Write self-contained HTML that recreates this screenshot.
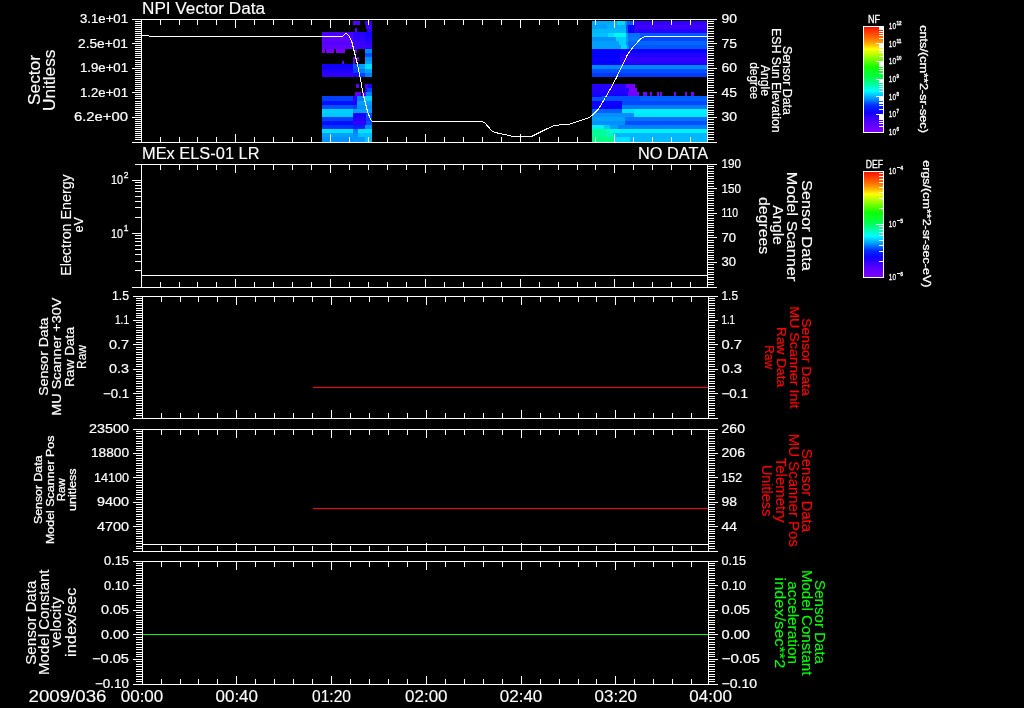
<!DOCTYPE html>
<html><head><meta charset="utf-8"><title>NPI Vector Data</title>
<style>
html,body{margin:0;padding:0;background:#000;width:1024px;height:708px;overflow:hidden}
svg{display:block}
text{font-family:"Liberation Sans",sans-serif;}
</style></head><body>
<svg width="1024" height="708" viewBox="0 0 1024 708">
<defs>
<linearGradient id="g1" x1="0" y1="0" x2="0" y2="1"><stop offset="0" stop-color="#ff1000"/><stop offset="0.107" stop-color="#ff7000"/><stop offset="0.16" stop-color="#ffb000"/><stop offset="0.21" stop-color="#ffff00"/><stop offset="0.28" stop-color="#a0ff00"/><stop offset="0.383" stop-color="#10ff00"/><stop offset="0.487" stop-color="#00ff50"/><stop offset="0.556" stop-color="#00ffb0"/><stop offset="0.608" stop-color="#00ffff"/><stop offset="0.677" stop-color="#00a0ff"/><stop offset="0.746" stop-color="#0030ff"/><stop offset="0.815" stop-color="#1000ff"/><stop offset="0.9" stop-color="#5000ff"/><stop offset="1" stop-color="#8000ff"/></linearGradient>
<linearGradient id="g2" x1="0" y1="0" x2="0" y2="1"><stop offset="0" stop-color="#ff1000"/><stop offset="0.107" stop-color="#ff7000"/><stop offset="0.16" stop-color="#ffb000"/><stop offset="0.21" stop-color="#ffff00"/><stop offset="0.28" stop-color="#a0ff00"/><stop offset="0.383" stop-color="#10ff00"/><stop offset="0.487" stop-color="#00ff50"/><stop offset="0.556" stop-color="#00ffb0"/><stop offset="0.608" stop-color="#00ffff"/><stop offset="0.677" stop-color="#00a0ff"/><stop offset="0.746" stop-color="#0030ff"/><stop offset="0.815" stop-color="#1000ff"/><stop offset="0.9" stop-color="#5000ff"/><stop offset="1" stop-color="#8000ff"/></linearGradient>
</defs>
<rect x="0" y="0" width="1024" height="708" fill="#000"/>
<g shape-rendering="crispEdges">
<rect x="353" y="21" width="7" height="4" fill="#5000ff"/>
<rect x="365" y="21" width="7" height="4" fill="#3000ff"/>
<rect x="366" y="25" width="6" height="4" fill="#4000ff"/>
<rect x="355" y="29" width="2" height="3" fill="#5800ff"/>
<rect x="367" y="29" width="5" height="3" fill="#3000ff"/>
<rect x="322" y="32" width="31" height="5" fill="#4800ff"/>
<rect x="353" y="32" width="12" height="5" fill="#2800ff"/>
<rect x="365" y="32" width="7" height="5" fill="#1000ff"/>
<rect x="322" y="37" width="31" height="4" fill="#6000ff"/>
<rect x="353" y="37" width="12" height="4" fill="#3000ff"/>
<rect x="365" y="37" width="7" height="4" fill="#2000ff"/>
<rect x="322" y="41" width="31" height="4" fill="#5800ff"/>
<rect x="353" y="41" width="12" height="4" fill="#3800ff"/>
<rect x="365" y="41" width="7" height="4" fill="#3000ff"/>
<rect x="322" y="45" width="31" height="4" fill="#6000ff"/>
<rect x="353" y="45" width="12" height="4" fill="#4000ff"/>
<rect x="365" y="45" width="7" height="4" fill="#3800ff"/>
<rect x="322" y="49" width="3" height="4" fill="#7800ff"/>
<rect x="326" y="49" width="8" height="4" fill="#7800ff"/>
<rect x="336" y="49" width="9" height="4" fill="#7800ff"/>
<rect x="355" y="49" width="2" height="4" fill="#6000ff"/>
<rect x="365" y="49" width="7" height="4" fill="#0088ff"/>
<rect x="365" y="53" width="7" height="4" fill="#0050ff"/>
<rect x="353" y="57" width="2" height="4" fill="#6000ff"/>
<rect x="357" y="57" width="2" height="4" fill="#6000ff"/>
<rect x="365" y="57" width="7" height="4" fill="#0090ff"/>
<rect x="342" y="61" width="2" height="3" fill="#6000ff"/>
<rect x="353" y="61" width="2" height="3" fill="#6000ff"/>
<rect x="365" y="61" width="7" height="3" fill="#00a0ff"/>
<rect x="322" y="64" width="31" height="5" fill="#1000ff"/>
<rect x="353" y="64" width="6" height="5" fill="#0050ff"/>
<rect x="359" y="64" width="6" height="5" fill="#00a0ff"/>
<rect x="365" y="64" width="7" height="5" fill="#00e0ff"/>
<rect x="322" y="69" width="31" height="4" fill="#2000ff"/>
<rect x="353" y="69" width="6" height="4" fill="#0040ff"/>
<rect x="359" y="69" width="6" height="4" fill="#0080ff"/>
<rect x="365" y="69" width="7" height="4" fill="#00a0ff"/>
<rect x="322" y="73" width="31" height="4" fill="#3000ff"/>
<rect x="353" y="73" width="6" height="4" fill="#2000ff"/>
<rect x="359" y="73" width="6" height="4" fill="#0040ff"/>
<rect x="365" y="73" width="7" height="4" fill="#0080ff"/>
<rect x="356" y="84" width="3" height="4" fill="#6000ff"/>
<rect x="365" y="84" width="3" height="4" fill="#5000ff"/>
<rect x="368" y="84" width="4" height="4" fill="#2000ff"/>
<rect x="365" y="88" width="2" height="4" fill="#3000ff"/>
<rect x="367" y="88" width="5" height="4" fill="#0040ff"/>
<rect x="355" y="92" width="6" height="4" fill="#6000ff"/>
<rect x="362" y="92" width="4" height="4" fill="#5800ff"/>
<rect x="366" y="92" width="6" height="4" fill="#0080ff"/>
<rect x="322" y="96" width="31" height="5" fill="#0040ff"/>
<rect x="353" y="96" width="4" height="5" fill="#3000ff"/>
<rect x="357" y="96" width="7" height="5" fill="#0080ff"/>
<rect x="364" y="96" width="8" height="5" fill="#00d0ff"/>
<rect x="322" y="101" width="31" height="4" fill="#0010ff"/>
<rect x="353" y="101" width="4" height="4" fill="#2000ff"/>
<rect x="357" y="101" width="15" height="4" fill="#00a0ff"/>
<rect x="322" y="105" width="31" height="4" fill="#0050ff"/>
<rect x="353" y="105" width="4" height="4" fill="#0040ff"/>
<rect x="357" y="105" width="15" height="4" fill="#0090ff"/>
<rect x="322" y="109" width="31" height="4" fill="#00d0ff"/>
<rect x="353" y="109" width="19" height="4" fill="#00a0ff"/>
<rect x="322" y="113" width="31" height="4" fill="#00c8ff"/>
<rect x="353" y="113" width="13" height="4" fill="#1000ff"/>
<rect x="366" y="113" width="6" height="4" fill="#0050ff"/>
<rect x="322" y="117" width="31" height="4" fill="#0040ff"/>
<rect x="353" y="117" width="13" height="4" fill="#2000ff"/>
<rect x="366" y="117" width="6" height="4" fill="#0040ff"/>
<rect x="322" y="121" width="31" height="4" fill="#0010ff"/>
<rect x="353" y="121" width="13" height="4" fill="#3000ff"/>
<rect x="366" y="121" width="6" height="4" fill="#0050ff"/>
<rect x="322" y="125" width="31" height="4" fill="#0030ff"/>
<rect x="353" y="125" width="12" height="4" fill="#0020ff"/>
<rect x="365" y="125" width="7" height="4" fill="#0090ff"/>
<rect x="322" y="129" width="31" height="4" fill="#00e0ff"/>
<rect x="353" y="129" width="5" height="4" fill="#0080ff"/>
<rect x="358" y="129" width="14" height="4" fill="#00e0ff"/>
<rect x="322" y="133" width="31" height="4" fill="#00a0ff"/>
<rect x="353" y="133" width="5" height="4" fill="#0090ff"/>
<rect x="358" y="133" width="14" height="4" fill="#00c0ff"/>
<rect x="322" y="137" width="31" height="5" fill="#0090ff"/>
<rect x="353" y="137" width="12" height="5" fill="#0098ff"/>
<rect x="365" y="137" width="7" height="5" fill="#00c0ff"/>
<rect x="592" y="21" width="25" height="4" fill="#00a8ff"/>
<rect x="617" y="21" width="8" height="4" fill="#00d8ff"/>
<rect x="625" y="21" width="2" height="4" fill="#0090ff"/>
<rect x="627" y="21" width="6" height="4" fill="#0058ff"/>
<rect x="633" y="21" width="74" height="4" fill="#3000ff"/>
<rect x="592" y="25" width="15" height="4" fill="#00a0ff"/>
<rect x="607" y="25" width="19" height="4" fill="#00b0ff"/>
<rect x="626" y="25" width="2" height="4" fill="#0050ff"/>
<rect x="628" y="25" width="7" height="4" fill="#1000ff"/>
<rect x="635" y="25" width="72" height="4" fill="#4000ff"/>
<rect x="592" y="29" width="34" height="4" fill="#00b8ff"/>
<rect x="626" y="29" width="2" height="4" fill="#0060ff"/>
<rect x="628" y="29" width="6" height="4" fill="#0800ff"/>
<rect x="634" y="29" width="73" height="4" fill="#2800ff"/>
<rect x="592" y="33" width="16" height="4" fill="#00c0ff"/>
<rect x="608" y="33" width="6" height="4" fill="#00e0ff"/>
<rect x="614" y="33" width="12" height="4" fill="#00f8f0"/>
<rect x="626" y="33" width="2" height="4" fill="#00a0ff"/>
<rect x="628" y="33" width="12" height="4" fill="#0070ff"/>
<rect x="640" y="33" width="67" height="4" fill="#0058ff"/>
<rect x="592" y="37" width="24" height="4" fill="#0090ff"/>
<rect x="616" y="37" width="10" height="4" fill="#00d0ff"/>
<rect x="626" y="37" width="2" height="4" fill="#00a0ff"/>
<rect x="628" y="37" width="12" height="4" fill="#0078ff"/>
<rect x="640" y="37" width="67" height="4" fill="#0048ff"/>
<rect x="592" y="41" width="27" height="4" fill="#00a0ff"/>
<rect x="619" y="41" width="7" height="4" fill="#00d0ff"/>
<rect x="626" y="41" width="2" height="4" fill="#0098ff"/>
<rect x="628" y="41" width="79" height="4" fill="#0068ff"/>
<rect x="592" y="45" width="29" height="4" fill="#00a0ff"/>
<rect x="621" y="45" width="6" height="4" fill="#00d8ff"/>
<rect x="627" y="45" width="2" height="4" fill="#0090ff"/>
<rect x="629" y="45" width="78" height="4" fill="#0058ff"/>
<rect x="592" y="49" width="115" height="4" fill="#0800ff"/>
<rect x="592" y="53" width="28" height="4" fill="#0000ff"/>
<rect x="620" y="53" width="87" height="4" fill="#2000ff"/>
<rect x="592" y="57" width="28" height="4" fill="#0800ff"/>
<rect x="620" y="57" width="87" height="4" fill="#3000ff"/>
<rect x="592" y="61" width="28" height="4" fill="#0000ff"/>
<rect x="620" y="61" width="87" height="4" fill="#2800ff"/>
<rect x="592" y="65" width="115" height="4" fill="#0088ff"/>
<rect x="592" y="69" width="115" height="4" fill="#0050ff"/>
<rect x="592" y="73" width="115" height="4" fill="#0038ff"/>
<rect x="592" y="84" width="34" height="4" fill="#2800ff"/>
<rect x="626" y="84" width="9" height="4" fill="#7000ff"/>
<rect x="592" y="88" width="37" height="4" fill="#2000ff"/>
<rect x="629" y="88" width="8" height="4" fill="#7800ff"/>
<rect x="592" y="92" width="36" height="4" fill="#1800ff"/>
<rect x="628" y="92" width="11" height="4" fill="#7000ff"/>
<rect x="643" y="92" width="4" height="4" fill="#7800ff"/>
<rect x="650" y="92" width="2" height="4" fill="#7800ff"/>
<rect x="657" y="92" width="2" height="4" fill="#7800ff"/>
<rect x="660" y="92" width="2" height="4" fill="#7800ff"/>
<rect x="674" y="92" width="2" height="4" fill="#7800ff"/>
<rect x="685" y="92" width="2" height="4" fill="#7800ff"/>
<rect x="691" y="92" width="3" height="4" fill="#7800ff"/>
<rect x="592" y="96" width="48" height="5" fill="#0050ff"/>
<rect x="640" y="96" width="67" height="5" fill="#0060ff"/>
<rect x="592" y="101" width="30" height="4" fill="#1000ff"/>
<rect x="622" y="101" width="85" height="4" fill="#0048ff"/>
<rect x="592" y="105" width="30" height="4" fill="#0800ff"/>
<rect x="622" y="105" width="85" height="4" fill="#0078ff"/>
<rect x="592" y="109" width="30" height="4" fill="#0060ff"/>
<rect x="622" y="109" width="12" height="4" fill="#00e0ff"/>
<rect x="634" y="109" width="73" height="4" fill="#00f0ff"/>
<rect x="592" y="113" width="42" height="4" fill="#0090ff"/>
<rect x="634" y="113" width="73" height="4" fill="#00e8ff"/>
<rect x="592" y="117" width="33" height="4" fill="#00a0ff"/>
<rect x="625" y="117" width="82" height="4" fill="#0070ff"/>
<rect x="592" y="121" width="33" height="4" fill="#0090ff"/>
<rect x="625" y="121" width="82" height="4" fill="#0050ff"/>
<rect x="592" y="125" width="12" height="4" fill="#00f0ff"/>
<rect x="604" y="125" width="6" height="4" fill="#00c8ff"/>
<rect x="610" y="125" width="8" height="4" fill="#00a0ff"/>
<rect x="618" y="125" width="89" height="4" fill="#0080ff"/>
<rect x="592" y="129" width="13" height="4" fill="#00ff90"/>
<rect x="605" y="129" width="4" height="4" fill="#00ffb0"/>
<rect x="609" y="129" width="5" height="4" fill="#00ffd0"/>
<rect x="614" y="129" width="6" height="4" fill="#00f8e8"/>
<rect x="620" y="129" width="87" height="4" fill="#00f0f8"/>
<rect x="592" y="133" width="14" height="4" fill="#00ff98"/>
<rect x="606" y="133" width="7" height="4" fill="#00f8c0"/>
<rect x="613" y="133" width="3" height="4" fill="#00d0e8"/>
<rect x="616" y="133" width="91" height="4" fill="#00b8ff"/>
<rect x="592" y="137" width="22" height="5" fill="#00ff80"/>
<rect x="614" y="137" width="16" height="5" fill="#00e0ff"/>
<rect x="630" y="137" width="77" height="5" fill="#00b8ff"/>
<rect x="355" y="28" width="2" height="1" fill="#5800ff"/>
<rect x="592" y="96" width="10" height="1" fill="#1800ff"/>
<rect x="141" y="19" width="567" height="1" fill="#fff"/>
<rect x="141" y="142" width="567" height="1" fill="#fff"/>
<rect x="141" y="19" width="1" height="124" fill="#fff"/>
<rect x="707" y="19" width="1" height="124" fill="#fff"/>
<rect x="141" y="19" width="1" height="9" fill="#fff"/>
<rect x="141" y="134" width="1" height="9" fill="#fff"/>
<rect x="160" y="19" width="1" height="6" fill="#fff"/>
<rect x="160" y="137" width="1" height="6" fill="#fff"/>
<rect x="179" y="19" width="1" height="6" fill="#fff"/>
<rect x="179" y="137" width="1" height="6" fill="#fff"/>
<rect x="197" y="19" width="1" height="6" fill="#fff"/>
<rect x="197" y="137" width="1" height="6" fill="#fff"/>
<rect x="216" y="19" width="1" height="6" fill="#fff"/>
<rect x="216" y="137" width="1" height="6" fill="#fff"/>
<rect x="235" y="19" width="1" height="9" fill="#fff"/>
<rect x="235" y="134" width="1" height="9" fill="#fff"/>
<rect x="254" y="19" width="1" height="6" fill="#fff"/>
<rect x="254" y="137" width="1" height="6" fill="#fff"/>
<rect x="273" y="19" width="1" height="6" fill="#fff"/>
<rect x="273" y="137" width="1" height="6" fill="#fff"/>
<rect x="292" y="19" width="1" height="6" fill="#fff"/>
<rect x="292" y="137" width="1" height="6" fill="#fff"/>
<rect x="311" y="19" width="1" height="6" fill="#fff"/>
<rect x="311" y="137" width="1" height="6" fill="#fff"/>
<rect x="330" y="19" width="1" height="9" fill="#fff"/>
<rect x="330" y="134" width="1" height="9" fill="#fff"/>
<rect x="349" y="19" width="1" height="6" fill="#fff"/>
<rect x="349" y="137" width="1" height="6" fill="#fff"/>
<rect x="368" y="19" width="1" height="6" fill="#fff"/>
<rect x="368" y="137" width="1" height="6" fill="#fff"/>
<rect x="387" y="19" width="1" height="6" fill="#fff"/>
<rect x="387" y="137" width="1" height="6" fill="#fff"/>
<rect x="406" y="19" width="1" height="6" fill="#fff"/>
<rect x="406" y="137" width="1" height="6" fill="#fff"/>
<rect x="425" y="19" width="1" height="9" fill="#fff"/>
<rect x="425" y="134" width="1" height="9" fill="#fff"/>
<rect x="444" y="19" width="1" height="6" fill="#fff"/>
<rect x="444" y="137" width="1" height="6" fill="#fff"/>
<rect x="463" y="19" width="1" height="6" fill="#fff"/>
<rect x="463" y="137" width="1" height="6" fill="#fff"/>
<rect x="482" y="19" width="1" height="6" fill="#fff"/>
<rect x="482" y="137" width="1" height="6" fill="#fff"/>
<rect x="501" y="19" width="1" height="6" fill="#fff"/>
<rect x="501" y="137" width="1" height="6" fill="#fff"/>
<rect x="520" y="19" width="1" height="9" fill="#fff"/>
<rect x="520" y="134" width="1" height="9" fill="#fff"/>
<rect x="539" y="19" width="1" height="6" fill="#fff"/>
<rect x="539" y="137" width="1" height="6" fill="#fff"/>
<rect x="558" y="19" width="1" height="6" fill="#fff"/>
<rect x="558" y="137" width="1" height="6" fill="#fff"/>
<rect x="577" y="19" width="1" height="6" fill="#fff"/>
<rect x="577" y="137" width="1" height="6" fill="#fff"/>
<rect x="595" y="19" width="1" height="6" fill="#fff"/>
<rect x="595" y="137" width="1" height="6" fill="#fff"/>
<rect x="614" y="19" width="1" height="9" fill="#fff"/>
<rect x="614" y="134" width="1" height="9" fill="#fff"/>
<rect x="633" y="19" width="1" height="6" fill="#fff"/>
<rect x="633" y="137" width="1" height="6" fill="#fff"/>
<rect x="652" y="19" width="1" height="6" fill="#fff"/>
<rect x="652" y="137" width="1" height="6" fill="#fff"/>
<rect x="671" y="19" width="1" height="6" fill="#fff"/>
<rect x="671" y="137" width="1" height="6" fill="#fff"/>
<rect x="690" y="19" width="1" height="6" fill="#fff"/>
<rect x="690" y="137" width="1" height="6" fill="#fff"/>
<rect x="141" y="164" width="567" height="1" fill="#fff"/>
<rect x="141" y="287" width="567" height="1" fill="#fff"/>
<rect x="141" y="164" width="1" height="124" fill="#fff"/>
<rect x="707" y="164" width="1" height="124" fill="#fff"/>
<rect x="141" y="164" width="1" height="9" fill="#fff"/>
<rect x="141" y="279" width="1" height="9" fill="#fff"/>
<rect x="160" y="164" width="1" height="6" fill="#fff"/>
<rect x="160" y="282" width="1" height="6" fill="#fff"/>
<rect x="179" y="164" width="1" height="6" fill="#fff"/>
<rect x="179" y="282" width="1" height="6" fill="#fff"/>
<rect x="197" y="164" width="1" height="6" fill="#fff"/>
<rect x="197" y="282" width="1" height="6" fill="#fff"/>
<rect x="216" y="164" width="1" height="6" fill="#fff"/>
<rect x="216" y="282" width="1" height="6" fill="#fff"/>
<rect x="235" y="164" width="1" height="9" fill="#fff"/>
<rect x="235" y="279" width="1" height="9" fill="#fff"/>
<rect x="254" y="164" width="1" height="6" fill="#fff"/>
<rect x="254" y="282" width="1" height="6" fill="#fff"/>
<rect x="273" y="164" width="1" height="6" fill="#fff"/>
<rect x="273" y="282" width="1" height="6" fill="#fff"/>
<rect x="292" y="164" width="1" height="6" fill="#fff"/>
<rect x="292" y="282" width="1" height="6" fill="#fff"/>
<rect x="311" y="164" width="1" height="6" fill="#fff"/>
<rect x="311" y="282" width="1" height="6" fill="#fff"/>
<rect x="330" y="164" width="1" height="9" fill="#fff"/>
<rect x="330" y="279" width="1" height="9" fill="#fff"/>
<rect x="349" y="164" width="1" height="6" fill="#fff"/>
<rect x="349" y="282" width="1" height="6" fill="#fff"/>
<rect x="368" y="164" width="1" height="6" fill="#fff"/>
<rect x="368" y="282" width="1" height="6" fill="#fff"/>
<rect x="387" y="164" width="1" height="6" fill="#fff"/>
<rect x="387" y="282" width="1" height="6" fill="#fff"/>
<rect x="406" y="164" width="1" height="6" fill="#fff"/>
<rect x="406" y="282" width="1" height="6" fill="#fff"/>
<rect x="425" y="164" width="1" height="9" fill="#fff"/>
<rect x="425" y="279" width="1" height="9" fill="#fff"/>
<rect x="444" y="164" width="1" height="6" fill="#fff"/>
<rect x="444" y="282" width="1" height="6" fill="#fff"/>
<rect x="463" y="164" width="1" height="6" fill="#fff"/>
<rect x="463" y="282" width="1" height="6" fill="#fff"/>
<rect x="482" y="164" width="1" height="6" fill="#fff"/>
<rect x="482" y="282" width="1" height="6" fill="#fff"/>
<rect x="501" y="164" width="1" height="6" fill="#fff"/>
<rect x="501" y="282" width="1" height="6" fill="#fff"/>
<rect x="520" y="164" width="1" height="9" fill="#fff"/>
<rect x="520" y="279" width="1" height="9" fill="#fff"/>
<rect x="539" y="164" width="1" height="6" fill="#fff"/>
<rect x="539" y="282" width="1" height="6" fill="#fff"/>
<rect x="558" y="164" width="1" height="6" fill="#fff"/>
<rect x="558" y="282" width="1" height="6" fill="#fff"/>
<rect x="577" y="164" width="1" height="6" fill="#fff"/>
<rect x="577" y="282" width="1" height="6" fill="#fff"/>
<rect x="595" y="164" width="1" height="6" fill="#fff"/>
<rect x="595" y="282" width="1" height="6" fill="#fff"/>
<rect x="614" y="164" width="1" height="9" fill="#fff"/>
<rect x="614" y="279" width="1" height="9" fill="#fff"/>
<rect x="633" y="164" width="1" height="6" fill="#fff"/>
<rect x="633" y="282" width="1" height="6" fill="#fff"/>
<rect x="652" y="164" width="1" height="6" fill="#fff"/>
<rect x="652" y="282" width="1" height="6" fill="#fff"/>
<rect x="671" y="164" width="1" height="6" fill="#fff"/>
<rect x="671" y="282" width="1" height="6" fill="#fff"/>
<rect x="690" y="164" width="1" height="6" fill="#fff"/>
<rect x="690" y="282" width="1" height="6" fill="#fff"/>
<rect x="142" y="296" width="567" height="1" fill="#fff"/>
<rect x="142" y="418" width="567" height="1" fill="#fff"/>
<rect x="142" y="296" width="1" height="123" fill="#fff"/>
<rect x="708" y="296" width="1" height="123" fill="#fff"/>
<rect x="142" y="296" width="1" height="9" fill="#fff"/>
<rect x="142" y="410" width="1" height="9" fill="#fff"/>
<rect x="161" y="296" width="1" height="6" fill="#fff"/>
<rect x="161" y="413" width="1" height="6" fill="#fff"/>
<rect x="180" y="296" width="1" height="6" fill="#fff"/>
<rect x="180" y="413" width="1" height="6" fill="#fff"/>
<rect x="198" y="296" width="1" height="6" fill="#fff"/>
<rect x="198" y="413" width="1" height="6" fill="#fff"/>
<rect x="217" y="296" width="1" height="6" fill="#fff"/>
<rect x="217" y="413" width="1" height="6" fill="#fff"/>
<rect x="236" y="296" width="1" height="9" fill="#fff"/>
<rect x="236" y="410" width="1" height="9" fill="#fff"/>
<rect x="255" y="296" width="1" height="6" fill="#fff"/>
<rect x="255" y="413" width="1" height="6" fill="#fff"/>
<rect x="274" y="296" width="1" height="6" fill="#fff"/>
<rect x="274" y="413" width="1" height="6" fill="#fff"/>
<rect x="293" y="296" width="1" height="6" fill="#fff"/>
<rect x="293" y="413" width="1" height="6" fill="#fff"/>
<rect x="312" y="296" width="1" height="6" fill="#fff"/>
<rect x="312" y="413" width="1" height="6" fill="#fff"/>
<rect x="331" y="296" width="1" height="9" fill="#fff"/>
<rect x="331" y="410" width="1" height="9" fill="#fff"/>
<rect x="350" y="296" width="1" height="6" fill="#fff"/>
<rect x="350" y="413" width="1" height="6" fill="#fff"/>
<rect x="369" y="296" width="1" height="6" fill="#fff"/>
<rect x="369" y="413" width="1" height="6" fill="#fff"/>
<rect x="388" y="296" width="1" height="6" fill="#fff"/>
<rect x="388" y="413" width="1" height="6" fill="#fff"/>
<rect x="407" y="296" width="1" height="6" fill="#fff"/>
<rect x="407" y="413" width="1" height="6" fill="#fff"/>
<rect x="426" y="296" width="1" height="9" fill="#fff"/>
<rect x="426" y="410" width="1" height="9" fill="#fff"/>
<rect x="445" y="296" width="1" height="6" fill="#fff"/>
<rect x="445" y="413" width="1" height="6" fill="#fff"/>
<rect x="464" y="296" width="1" height="6" fill="#fff"/>
<rect x="464" y="413" width="1" height="6" fill="#fff"/>
<rect x="483" y="296" width="1" height="6" fill="#fff"/>
<rect x="483" y="413" width="1" height="6" fill="#fff"/>
<rect x="502" y="296" width="1" height="6" fill="#fff"/>
<rect x="502" y="413" width="1" height="6" fill="#fff"/>
<rect x="521" y="296" width="1" height="9" fill="#fff"/>
<rect x="521" y="410" width="1" height="9" fill="#fff"/>
<rect x="540" y="296" width="1" height="6" fill="#fff"/>
<rect x="540" y="413" width="1" height="6" fill="#fff"/>
<rect x="559" y="296" width="1" height="6" fill="#fff"/>
<rect x="559" y="413" width="1" height="6" fill="#fff"/>
<rect x="578" y="296" width="1" height="6" fill="#fff"/>
<rect x="578" y="413" width="1" height="6" fill="#fff"/>
<rect x="596" y="296" width="1" height="6" fill="#fff"/>
<rect x="596" y="413" width="1" height="6" fill="#fff"/>
<rect x="615" y="296" width="1" height="9" fill="#fff"/>
<rect x="615" y="410" width="1" height="9" fill="#fff"/>
<rect x="634" y="296" width="1" height="6" fill="#fff"/>
<rect x="634" y="413" width="1" height="6" fill="#fff"/>
<rect x="653" y="296" width="1" height="6" fill="#fff"/>
<rect x="653" y="413" width="1" height="6" fill="#fff"/>
<rect x="672" y="296" width="1" height="6" fill="#fff"/>
<rect x="672" y="413" width="1" height="6" fill="#fff"/>
<rect x="691" y="296" width="1" height="6" fill="#fff"/>
<rect x="691" y="413" width="1" height="6" fill="#fff"/>
<rect x="142" y="429" width="567" height="1" fill="#fff"/>
<rect x="142" y="551" width="567" height="1" fill="#fff"/>
<rect x="142" y="429" width="1" height="123" fill="#fff"/>
<rect x="708" y="429" width="1" height="123" fill="#fff"/>
<rect x="142" y="429" width="1" height="9" fill="#fff"/>
<rect x="142" y="543" width="1" height="9" fill="#fff"/>
<rect x="161" y="429" width="1" height="6" fill="#fff"/>
<rect x="161" y="546" width="1" height="6" fill="#fff"/>
<rect x="180" y="429" width="1" height="6" fill="#fff"/>
<rect x="180" y="546" width="1" height="6" fill="#fff"/>
<rect x="198" y="429" width="1" height="6" fill="#fff"/>
<rect x="198" y="546" width="1" height="6" fill="#fff"/>
<rect x="217" y="429" width="1" height="6" fill="#fff"/>
<rect x="217" y="546" width="1" height="6" fill="#fff"/>
<rect x="236" y="429" width="1" height="9" fill="#fff"/>
<rect x="236" y="543" width="1" height="9" fill="#fff"/>
<rect x="255" y="429" width="1" height="6" fill="#fff"/>
<rect x="255" y="546" width="1" height="6" fill="#fff"/>
<rect x="274" y="429" width="1" height="6" fill="#fff"/>
<rect x="274" y="546" width="1" height="6" fill="#fff"/>
<rect x="293" y="429" width="1" height="6" fill="#fff"/>
<rect x="293" y="546" width="1" height="6" fill="#fff"/>
<rect x="312" y="429" width="1" height="6" fill="#fff"/>
<rect x="312" y="546" width="1" height="6" fill="#fff"/>
<rect x="331" y="429" width="1" height="9" fill="#fff"/>
<rect x="331" y="543" width="1" height="9" fill="#fff"/>
<rect x="350" y="429" width="1" height="6" fill="#fff"/>
<rect x="350" y="546" width="1" height="6" fill="#fff"/>
<rect x="369" y="429" width="1" height="6" fill="#fff"/>
<rect x="369" y="546" width="1" height="6" fill="#fff"/>
<rect x="388" y="429" width="1" height="6" fill="#fff"/>
<rect x="388" y="546" width="1" height="6" fill="#fff"/>
<rect x="407" y="429" width="1" height="6" fill="#fff"/>
<rect x="407" y="546" width="1" height="6" fill="#fff"/>
<rect x="426" y="429" width="1" height="9" fill="#fff"/>
<rect x="426" y="543" width="1" height="9" fill="#fff"/>
<rect x="445" y="429" width="1" height="6" fill="#fff"/>
<rect x="445" y="546" width="1" height="6" fill="#fff"/>
<rect x="464" y="429" width="1" height="6" fill="#fff"/>
<rect x="464" y="546" width="1" height="6" fill="#fff"/>
<rect x="483" y="429" width="1" height="6" fill="#fff"/>
<rect x="483" y="546" width="1" height="6" fill="#fff"/>
<rect x="502" y="429" width="1" height="6" fill="#fff"/>
<rect x="502" y="546" width="1" height="6" fill="#fff"/>
<rect x="521" y="429" width="1" height="9" fill="#fff"/>
<rect x="521" y="543" width="1" height="9" fill="#fff"/>
<rect x="540" y="429" width="1" height="6" fill="#fff"/>
<rect x="540" y="546" width="1" height="6" fill="#fff"/>
<rect x="559" y="429" width="1" height="6" fill="#fff"/>
<rect x="559" y="546" width="1" height="6" fill="#fff"/>
<rect x="578" y="429" width="1" height="6" fill="#fff"/>
<rect x="578" y="546" width="1" height="6" fill="#fff"/>
<rect x="596" y="429" width="1" height="6" fill="#fff"/>
<rect x="596" y="546" width="1" height="6" fill="#fff"/>
<rect x="615" y="429" width="1" height="9" fill="#fff"/>
<rect x="615" y="543" width="1" height="9" fill="#fff"/>
<rect x="634" y="429" width="1" height="6" fill="#fff"/>
<rect x="634" y="546" width="1" height="6" fill="#fff"/>
<rect x="653" y="429" width="1" height="6" fill="#fff"/>
<rect x="653" y="546" width="1" height="6" fill="#fff"/>
<rect x="672" y="429" width="1" height="6" fill="#fff"/>
<rect x="672" y="546" width="1" height="6" fill="#fff"/>
<rect x="691" y="429" width="1" height="6" fill="#fff"/>
<rect x="691" y="546" width="1" height="6" fill="#fff"/>
<rect x="142" y="561" width="567" height="1" fill="#fff"/>
<rect x="142" y="684" width="567" height="1" fill="#fff"/>
<rect x="142" y="561" width="1" height="124" fill="#fff"/>
<rect x="708" y="561" width="1" height="124" fill="#fff"/>
<rect x="142" y="561" width="1" height="9" fill="#fff"/>
<rect x="142" y="676" width="1" height="9" fill="#fff"/>
<rect x="161" y="561" width="1" height="6" fill="#fff"/>
<rect x="161" y="679" width="1" height="6" fill="#fff"/>
<rect x="180" y="561" width="1" height="6" fill="#fff"/>
<rect x="180" y="679" width="1" height="6" fill="#fff"/>
<rect x="198" y="561" width="1" height="6" fill="#fff"/>
<rect x="198" y="679" width="1" height="6" fill="#fff"/>
<rect x="217" y="561" width="1" height="6" fill="#fff"/>
<rect x="217" y="679" width="1" height="6" fill="#fff"/>
<rect x="236" y="561" width="1" height="9" fill="#fff"/>
<rect x="236" y="676" width="1" height="9" fill="#fff"/>
<rect x="255" y="561" width="1" height="6" fill="#fff"/>
<rect x="255" y="679" width="1" height="6" fill="#fff"/>
<rect x="274" y="561" width="1" height="6" fill="#fff"/>
<rect x="274" y="679" width="1" height="6" fill="#fff"/>
<rect x="293" y="561" width="1" height="6" fill="#fff"/>
<rect x="293" y="679" width="1" height="6" fill="#fff"/>
<rect x="312" y="561" width="1" height="6" fill="#fff"/>
<rect x="312" y="679" width="1" height="6" fill="#fff"/>
<rect x="331" y="561" width="1" height="9" fill="#fff"/>
<rect x="331" y="676" width="1" height="9" fill="#fff"/>
<rect x="350" y="561" width="1" height="6" fill="#fff"/>
<rect x="350" y="679" width="1" height="6" fill="#fff"/>
<rect x="369" y="561" width="1" height="6" fill="#fff"/>
<rect x="369" y="679" width="1" height="6" fill="#fff"/>
<rect x="388" y="561" width="1" height="6" fill="#fff"/>
<rect x="388" y="679" width="1" height="6" fill="#fff"/>
<rect x="407" y="561" width="1" height="6" fill="#fff"/>
<rect x="407" y="679" width="1" height="6" fill="#fff"/>
<rect x="426" y="561" width="1" height="9" fill="#fff"/>
<rect x="426" y="676" width="1" height="9" fill="#fff"/>
<rect x="445" y="561" width="1" height="6" fill="#fff"/>
<rect x="445" y="679" width="1" height="6" fill="#fff"/>
<rect x="464" y="561" width="1" height="6" fill="#fff"/>
<rect x="464" y="679" width="1" height="6" fill="#fff"/>
<rect x="483" y="561" width="1" height="6" fill="#fff"/>
<rect x="483" y="679" width="1" height="6" fill="#fff"/>
<rect x="502" y="561" width="1" height="6" fill="#fff"/>
<rect x="502" y="679" width="1" height="6" fill="#fff"/>
<rect x="521" y="561" width="1" height="9" fill="#fff"/>
<rect x="521" y="676" width="1" height="9" fill="#fff"/>
<rect x="540" y="561" width="1" height="6" fill="#fff"/>
<rect x="540" y="679" width="1" height="6" fill="#fff"/>
<rect x="559" y="561" width="1" height="6" fill="#fff"/>
<rect x="559" y="679" width="1" height="6" fill="#fff"/>
<rect x="578" y="561" width="1" height="6" fill="#fff"/>
<rect x="578" y="679" width="1" height="6" fill="#fff"/>
<rect x="596" y="561" width="1" height="6" fill="#fff"/>
<rect x="596" y="679" width="1" height="6" fill="#fff"/>
<rect x="615" y="561" width="1" height="9" fill="#fff"/>
<rect x="615" y="676" width="1" height="9" fill="#fff"/>
<rect x="634" y="561" width="1" height="6" fill="#fff"/>
<rect x="634" y="679" width="1" height="6" fill="#fff"/>
<rect x="653" y="561" width="1" height="6" fill="#fff"/>
<rect x="653" y="679" width="1" height="6" fill="#fff"/>
<rect x="672" y="561" width="1" height="6" fill="#fff"/>
<rect x="672" y="679" width="1" height="6" fill="#fff"/>
<rect x="691" y="561" width="1" height="6" fill="#fff"/>
<rect x="691" y="679" width="1" height="6" fill="#fff"/>
<rect x="132" y="19" width="10" height="1" fill="#fff"/>
<rect x="135" y="21" width="7" height="1" fill="#fff"/>
<rect x="135" y="23" width="7" height="1" fill="#fff"/>
<rect x="135" y="25" width="7" height="1" fill="#fff"/>
<rect x="135" y="27" width="7" height="1" fill="#fff"/>
<rect x="135" y="29" width="7" height="1" fill="#fff"/>
<rect x="135" y="31" width="7" height="1" fill="#fff"/>
<rect x="135" y="33" width="7" height="1" fill="#fff"/>
<rect x="135" y="35" width="7" height="1" fill="#fff"/>
<rect x="135" y="37" width="7" height="1" fill="#fff"/>
<rect x="135" y="39" width="7" height="1" fill="#fff"/>
<rect x="135" y="41" width="7" height="1" fill="#fff"/>
<rect x="132" y="43" width="10" height="1" fill="#fff"/>
<rect x="135" y="45" width="7" height="1" fill="#fff"/>
<rect x="135" y="47" width="7" height="1" fill="#fff"/>
<rect x="135" y="49" width="7" height="1" fill="#fff"/>
<rect x="135" y="51" width="7" height="1" fill="#fff"/>
<rect x="135" y="53" width="7" height="1" fill="#fff"/>
<rect x="135" y="55" width="7" height="1" fill="#fff"/>
<rect x="135" y="57" width="7" height="1" fill="#fff"/>
<rect x="135" y="60" width="7" height="1" fill="#fff"/>
<rect x="135" y="62" width="7" height="1" fill="#fff"/>
<rect x="135" y="64" width="7" height="1" fill="#fff"/>
<rect x="135" y="66" width="7" height="1" fill="#fff"/>
<rect x="132" y="68" width="10" height="1" fill="#fff"/>
<rect x="135" y="70" width="7" height="1" fill="#fff"/>
<rect x="135" y="72" width="7" height="1" fill="#fff"/>
<rect x="135" y="74" width="7" height="1" fill="#fff"/>
<rect x="135" y="76" width="7" height="1" fill="#fff"/>
<rect x="135" y="78" width="7" height="1" fill="#fff"/>
<rect x="135" y="80" width="7" height="1" fill="#fff"/>
<rect x="135" y="82" width="7" height="1" fill="#fff"/>
<rect x="135" y="84" width="7" height="1" fill="#fff"/>
<rect x="135" y="86" width="7" height="1" fill="#fff"/>
<rect x="135" y="88" width="7" height="1" fill="#fff"/>
<rect x="135" y="90" width="7" height="1" fill="#fff"/>
<rect x="132" y="92" width="10" height="1" fill="#fff"/>
<rect x="135" y="94" width="7" height="1" fill="#fff"/>
<rect x="135" y="96" width="7" height="1" fill="#fff"/>
<rect x="135" y="98" width="7" height="1" fill="#fff"/>
<rect x="135" y="101" width="7" height="1" fill="#fff"/>
<rect x="135" y="103" width="7" height="1" fill="#fff"/>
<rect x="135" y="105" width="7" height="1" fill="#fff"/>
<rect x="135" y="107" width="7" height="1" fill="#fff"/>
<rect x="135" y="109" width="7" height="1" fill="#fff"/>
<rect x="135" y="111" width="7" height="1" fill="#fff"/>
<rect x="135" y="113" width="7" height="1" fill="#fff"/>
<rect x="135" y="115" width="7" height="1" fill="#fff"/>
<rect x="132" y="117" width="10" height="1" fill="#fff"/>
<rect x="135" y="119" width="7" height="1" fill="#fff"/>
<rect x="135" y="121" width="7" height="1" fill="#fff"/>
<rect x="135" y="123" width="7" height="1" fill="#fff"/>
<rect x="135" y="125" width="7" height="1" fill="#fff"/>
<rect x="135" y="127" width="7" height="1" fill="#fff"/>
<rect x="135" y="129" width="7" height="1" fill="#fff"/>
<rect x="135" y="131" width="7" height="1" fill="#fff"/>
<rect x="135" y="133" width="7" height="1" fill="#fff"/>
<rect x="135" y="135" width="7" height="1" fill="#fff"/>
<rect x="135" y="137" width="7" height="1" fill="#fff"/>
<rect x="135" y="139" width="7" height="1" fill="#fff"/>
<rect x="132" y="142" width="10" height="1" fill="#fff"/>
<rect x="707" y="19" width="10" height="1" fill="#fff"/>
<rect x="707" y="21" width="7" height="1" fill="#fff"/>
<rect x="707" y="23" width="7" height="1" fill="#fff"/>
<rect x="707" y="26" width="7" height="1" fill="#fff"/>
<rect x="707" y="28" width="7" height="1" fill="#fff"/>
<rect x="707" y="31" width="7" height="1" fill="#fff"/>
<rect x="707" y="33" width="7" height="1" fill="#fff"/>
<rect x="707" y="36" width="7" height="1" fill="#fff"/>
<rect x="707" y="38" width="7" height="1" fill="#fff"/>
<rect x="707" y="41" width="7" height="1" fill="#fff"/>
<rect x="707" y="43" width="10" height="1" fill="#fff"/>
<rect x="707" y="46" width="7" height="1" fill="#fff"/>
<rect x="707" y="48" width="7" height="1" fill="#fff"/>
<rect x="707" y="50" width="7" height="1" fill="#fff"/>
<rect x="707" y="53" width="7" height="1" fill="#fff"/>
<rect x="707" y="55" width="7" height="1" fill="#fff"/>
<rect x="707" y="58" width="7" height="1" fill="#fff"/>
<rect x="707" y="60" width="7" height="1" fill="#fff"/>
<rect x="707" y="63" width="7" height="1" fill="#fff"/>
<rect x="707" y="65" width="7" height="1" fill="#fff"/>
<rect x="707" y="68" width="10" height="1" fill="#fff"/>
<rect x="707" y="70" width="7" height="1" fill="#fff"/>
<rect x="707" y="73" width="7" height="1" fill="#fff"/>
<rect x="707" y="75" width="7" height="1" fill="#fff"/>
<rect x="707" y="78" width="7" height="1" fill="#fff"/>
<rect x="707" y="80" width="7" height="1" fill="#fff"/>
<rect x="707" y="82" width="7" height="1" fill="#fff"/>
<rect x="707" y="85" width="7" height="1" fill="#fff"/>
<rect x="707" y="87" width="7" height="1" fill="#fff"/>
<rect x="707" y="90" width="7" height="1" fill="#fff"/>
<rect x="707" y="92" width="10" height="1" fill="#fff"/>
<rect x="707" y="95" width="7" height="1" fill="#fff"/>
<rect x="707" y="97" width="7" height="1" fill="#fff"/>
<rect x="707" y="100" width="7" height="1" fill="#fff"/>
<rect x="707" y="102" width="7" height="1" fill="#fff"/>
<rect x="707" y="105" width="7" height="1" fill="#fff"/>
<rect x="707" y="107" width="7" height="1" fill="#fff"/>
<rect x="707" y="110" width="7" height="1" fill="#fff"/>
<rect x="707" y="112" width="7" height="1" fill="#fff"/>
<rect x="707" y="114" width="7" height="1" fill="#fff"/>
<rect x="707" y="117" width="10" height="1" fill="#fff"/>
<rect x="707" y="119" width="7" height="1" fill="#fff"/>
<rect x="707" y="122" width="7" height="1" fill="#fff"/>
<rect x="707" y="124" width="7" height="1" fill="#fff"/>
<rect x="707" y="127" width="7" height="1" fill="#fff"/>
<rect x="707" y="129" width="7" height="1" fill="#fff"/>
<rect x="707" y="132" width="7" height="1" fill="#fff"/>
<rect x="707" y="134" width="7" height="1" fill="#fff"/>
<rect x="707" y="137" width="7" height="1" fill="#fff"/>
<rect x="707" y="139" width="7" height="1" fill="#fff"/>
<rect x="707" y="142" width="10" height="1" fill="#fff"/>
<rect x="707" y="164" width="10" height="1" fill="#fff"/>
<rect x="707" y="166" width="7" height="1" fill="#fff"/>
<rect x="707" y="168" width="7" height="1" fill="#fff"/>
<rect x="707" y="171" width="7" height="1" fill="#fff"/>
<rect x="707" y="173" width="7" height="1" fill="#fff"/>
<rect x="707" y="176" width="7" height="1" fill="#fff"/>
<rect x="707" y="178" width="7" height="1" fill="#fff"/>
<rect x="707" y="181" width="7" height="1" fill="#fff"/>
<rect x="707" y="183" width="7" height="1" fill="#fff"/>
<rect x="707" y="186" width="7" height="1" fill="#fff"/>
<rect x="707" y="188" width="10" height="1" fill="#fff"/>
<rect x="707" y="191" width="7" height="1" fill="#fff"/>
<rect x="707" y="193" width="7" height="1" fill="#fff"/>
<rect x="707" y="195" width="7" height="1" fill="#fff"/>
<rect x="707" y="198" width="7" height="1" fill="#fff"/>
<rect x="707" y="200" width="7" height="1" fill="#fff"/>
<rect x="707" y="203" width="7" height="1" fill="#fff"/>
<rect x="707" y="205" width="7" height="1" fill="#fff"/>
<rect x="707" y="208" width="7" height="1" fill="#fff"/>
<rect x="707" y="210" width="7" height="1" fill="#fff"/>
<rect x="707" y="213" width="10" height="1" fill="#fff"/>
<rect x="707" y="215" width="7" height="1" fill="#fff"/>
<rect x="707" y="218" width="7" height="1" fill="#fff"/>
<rect x="707" y="220" width="7" height="1" fill="#fff"/>
<rect x="707" y="223" width="7" height="1" fill="#fff"/>
<rect x="707" y="225" width="7" height="1" fill="#fff"/>
<rect x="707" y="227" width="7" height="1" fill="#fff"/>
<rect x="707" y="230" width="7" height="1" fill="#fff"/>
<rect x="707" y="232" width="7" height="1" fill="#fff"/>
<rect x="707" y="235" width="7" height="1" fill="#fff"/>
<rect x="707" y="237" width="10" height="1" fill="#fff"/>
<rect x="707" y="240" width="7" height="1" fill="#fff"/>
<rect x="707" y="242" width="7" height="1" fill="#fff"/>
<rect x="707" y="245" width="7" height="1" fill="#fff"/>
<rect x="707" y="247" width="7" height="1" fill="#fff"/>
<rect x="707" y="250" width="7" height="1" fill="#fff"/>
<rect x="707" y="252" width="7" height="1" fill="#fff"/>
<rect x="707" y="255" width="7" height="1" fill="#fff"/>
<rect x="707" y="257" width="7" height="1" fill="#fff"/>
<rect x="707" y="259" width="7" height="1" fill="#fff"/>
<rect x="707" y="262" width="10" height="1" fill="#fff"/>
<rect x="707" y="264" width="7" height="1" fill="#fff"/>
<rect x="707" y="267" width="7" height="1" fill="#fff"/>
<rect x="707" y="269" width="7" height="1" fill="#fff"/>
<rect x="707" y="272" width="7" height="1" fill="#fff"/>
<rect x="707" y="274" width="7" height="1" fill="#fff"/>
<rect x="707" y="277" width="7" height="1" fill="#fff"/>
<rect x="707" y="279" width="7" height="1" fill="#fff"/>
<rect x="707" y="282" width="7" height="1" fill="#fff"/>
<rect x="707" y="284" width="7" height="1" fill="#fff"/>
<rect x="707" y="287" width="10" height="1" fill="#fff"/>
<rect x="133" y="296" width="10" height="1" fill="#fff"/>
<rect x="136" y="298" width="7" height="1" fill="#fff"/>
<rect x="136" y="300" width="7" height="1" fill="#fff"/>
<rect x="136" y="303" width="7" height="1" fill="#fff"/>
<rect x="136" y="305" width="7" height="1" fill="#fff"/>
<rect x="136" y="308" width="7" height="1" fill="#fff"/>
<rect x="136" y="310" width="7" height="1" fill="#fff"/>
<rect x="136" y="313" width="7" height="1" fill="#fff"/>
<rect x="136" y="315" width="7" height="1" fill="#fff"/>
<rect x="136" y="317" width="7" height="1" fill="#fff"/>
<rect x="133" y="320" width="10" height="1" fill="#fff"/>
<rect x="136" y="322" width="7" height="1" fill="#fff"/>
<rect x="136" y="325" width="7" height="1" fill="#fff"/>
<rect x="136" y="327" width="7" height="1" fill="#fff"/>
<rect x="136" y="330" width="7" height="1" fill="#fff"/>
<rect x="136" y="332" width="7" height="1" fill="#fff"/>
<rect x="136" y="335" width="7" height="1" fill="#fff"/>
<rect x="136" y="337" width="7" height="1" fill="#fff"/>
<rect x="136" y="339" width="7" height="1" fill="#fff"/>
<rect x="136" y="342" width="7" height="1" fill="#fff"/>
<rect x="133" y="344" width="10" height="1" fill="#fff"/>
<rect x="136" y="347" width="7" height="1" fill="#fff"/>
<rect x="136" y="349" width="7" height="1" fill="#fff"/>
<rect x="136" y="352" width="7" height="1" fill="#fff"/>
<rect x="136" y="354" width="7" height="1" fill="#fff"/>
<rect x="136" y="357" width="7" height="1" fill="#fff"/>
<rect x="136" y="359" width="7" height="1" fill="#fff"/>
<rect x="136" y="361" width="7" height="1" fill="#fff"/>
<rect x="136" y="364" width="7" height="1" fill="#fff"/>
<rect x="136" y="366" width="7" height="1" fill="#fff"/>
<rect x="133" y="369" width="10" height="1" fill="#fff"/>
<rect x="136" y="371" width="7" height="1" fill="#fff"/>
<rect x="136" y="374" width="7" height="1" fill="#fff"/>
<rect x="136" y="376" width="7" height="1" fill="#fff"/>
<rect x="136" y="378" width="7" height="1" fill="#fff"/>
<rect x="136" y="381" width="7" height="1" fill="#fff"/>
<rect x="136" y="383" width="7" height="1" fill="#fff"/>
<rect x="136" y="386" width="7" height="1" fill="#fff"/>
<rect x="136" y="388" width="7" height="1" fill="#fff"/>
<rect x="136" y="391" width="7" height="1" fill="#fff"/>
<rect x="133" y="393" width="10" height="1" fill="#fff"/>
<rect x="136" y="396" width="7" height="1" fill="#fff"/>
<rect x="136" y="398" width="7" height="1" fill="#fff"/>
<rect x="136" y="400" width="7" height="1" fill="#fff"/>
<rect x="136" y="403" width="7" height="1" fill="#fff"/>
<rect x="136" y="405" width="7" height="1" fill="#fff"/>
<rect x="136" y="408" width="7" height="1" fill="#fff"/>
<rect x="136" y="410" width="7" height="1" fill="#fff"/>
<rect x="136" y="413" width="7" height="1" fill="#fff"/>
<rect x="136" y="415" width="7" height="1" fill="#fff"/>
<rect x="133" y="418" width="10" height="1" fill="#fff"/>
<rect x="708" y="296" width="10" height="1" fill="#fff"/>
<rect x="708" y="298" width="7" height="1" fill="#fff"/>
<rect x="708" y="300" width="7" height="1" fill="#fff"/>
<rect x="708" y="303" width="7" height="1" fill="#fff"/>
<rect x="708" y="305" width="7" height="1" fill="#fff"/>
<rect x="708" y="308" width="7" height="1" fill="#fff"/>
<rect x="708" y="310" width="7" height="1" fill="#fff"/>
<rect x="708" y="313" width="7" height="1" fill="#fff"/>
<rect x="708" y="315" width="7" height="1" fill="#fff"/>
<rect x="708" y="317" width="7" height="1" fill="#fff"/>
<rect x="708" y="320" width="10" height="1" fill="#fff"/>
<rect x="708" y="322" width="7" height="1" fill="#fff"/>
<rect x="708" y="325" width="7" height="1" fill="#fff"/>
<rect x="708" y="327" width="7" height="1" fill="#fff"/>
<rect x="708" y="330" width="7" height="1" fill="#fff"/>
<rect x="708" y="332" width="7" height="1" fill="#fff"/>
<rect x="708" y="335" width="7" height="1" fill="#fff"/>
<rect x="708" y="337" width="7" height="1" fill="#fff"/>
<rect x="708" y="339" width="7" height="1" fill="#fff"/>
<rect x="708" y="342" width="7" height="1" fill="#fff"/>
<rect x="708" y="344" width="10" height="1" fill="#fff"/>
<rect x="708" y="347" width="7" height="1" fill="#fff"/>
<rect x="708" y="349" width="7" height="1" fill="#fff"/>
<rect x="708" y="352" width="7" height="1" fill="#fff"/>
<rect x="708" y="354" width="7" height="1" fill="#fff"/>
<rect x="708" y="357" width="7" height="1" fill="#fff"/>
<rect x="708" y="359" width="7" height="1" fill="#fff"/>
<rect x="708" y="361" width="7" height="1" fill="#fff"/>
<rect x="708" y="364" width="7" height="1" fill="#fff"/>
<rect x="708" y="366" width="7" height="1" fill="#fff"/>
<rect x="708" y="369" width="10" height="1" fill="#fff"/>
<rect x="708" y="371" width="7" height="1" fill="#fff"/>
<rect x="708" y="374" width="7" height="1" fill="#fff"/>
<rect x="708" y="376" width="7" height="1" fill="#fff"/>
<rect x="708" y="378" width="7" height="1" fill="#fff"/>
<rect x="708" y="381" width="7" height="1" fill="#fff"/>
<rect x="708" y="383" width="7" height="1" fill="#fff"/>
<rect x="708" y="386" width="7" height="1" fill="#fff"/>
<rect x="708" y="388" width="7" height="1" fill="#fff"/>
<rect x="708" y="391" width="7" height="1" fill="#fff"/>
<rect x="708" y="393" width="10" height="1" fill="#fff"/>
<rect x="708" y="396" width="7" height="1" fill="#fff"/>
<rect x="708" y="398" width="7" height="1" fill="#fff"/>
<rect x="708" y="400" width="7" height="1" fill="#fff"/>
<rect x="708" y="403" width="7" height="1" fill="#fff"/>
<rect x="708" y="405" width="7" height="1" fill="#fff"/>
<rect x="708" y="408" width="7" height="1" fill="#fff"/>
<rect x="708" y="410" width="7" height="1" fill="#fff"/>
<rect x="708" y="413" width="7" height="1" fill="#fff"/>
<rect x="708" y="415" width="7" height="1" fill="#fff"/>
<rect x="708" y="418" width="10" height="1" fill="#fff"/>
<rect x="133" y="429" width="10" height="1" fill="#fff"/>
<rect x="136" y="431" width="7" height="1" fill="#fff"/>
<rect x="136" y="433" width="7" height="1" fill="#fff"/>
<rect x="136" y="436" width="7" height="1" fill="#fff"/>
<rect x="136" y="438" width="7" height="1" fill="#fff"/>
<rect x="136" y="441" width="7" height="1" fill="#fff"/>
<rect x="136" y="443" width="7" height="1" fill="#fff"/>
<rect x="136" y="446" width="7" height="1" fill="#fff"/>
<rect x="136" y="448" width="7" height="1" fill="#fff"/>
<rect x="136" y="450" width="7" height="1" fill="#fff"/>
<rect x="133" y="453" width="10" height="1" fill="#fff"/>
<rect x="136" y="455" width="7" height="1" fill="#fff"/>
<rect x="136" y="458" width="7" height="1" fill="#fff"/>
<rect x="136" y="460" width="7" height="1" fill="#fff"/>
<rect x="136" y="463" width="7" height="1" fill="#fff"/>
<rect x="136" y="465" width="7" height="1" fill="#fff"/>
<rect x="136" y="468" width="7" height="1" fill="#fff"/>
<rect x="136" y="470" width="7" height="1" fill="#fff"/>
<rect x="136" y="472" width="7" height="1" fill="#fff"/>
<rect x="136" y="475" width="7" height="1" fill="#fff"/>
<rect x="133" y="477" width="10" height="1" fill="#fff"/>
<rect x="136" y="480" width="7" height="1" fill="#fff"/>
<rect x="136" y="482" width="7" height="1" fill="#fff"/>
<rect x="136" y="485" width="7" height="1" fill="#fff"/>
<rect x="136" y="487" width="7" height="1" fill="#fff"/>
<rect x="136" y="490" width="7" height="1" fill="#fff"/>
<rect x="136" y="492" width="7" height="1" fill="#fff"/>
<rect x="136" y="494" width="7" height="1" fill="#fff"/>
<rect x="136" y="497" width="7" height="1" fill="#fff"/>
<rect x="136" y="499" width="7" height="1" fill="#fff"/>
<rect x="133" y="502" width="10" height="1" fill="#fff"/>
<rect x="136" y="504" width="7" height="1" fill="#fff"/>
<rect x="136" y="507" width="7" height="1" fill="#fff"/>
<rect x="136" y="509" width="7" height="1" fill="#fff"/>
<rect x="136" y="511" width="7" height="1" fill="#fff"/>
<rect x="136" y="514" width="7" height="1" fill="#fff"/>
<rect x="136" y="516" width="7" height="1" fill="#fff"/>
<rect x="136" y="519" width="7" height="1" fill="#fff"/>
<rect x="136" y="521" width="7" height="1" fill="#fff"/>
<rect x="136" y="524" width="7" height="1" fill="#fff"/>
<rect x="133" y="526" width="10" height="1" fill="#fff"/>
<rect x="136" y="529" width="7" height="1" fill="#fff"/>
<rect x="136" y="531" width="7" height="1" fill="#fff"/>
<rect x="136" y="533" width="7" height="1" fill="#fff"/>
<rect x="136" y="536" width="7" height="1" fill="#fff"/>
<rect x="136" y="538" width="7" height="1" fill="#fff"/>
<rect x="136" y="541" width="7" height="1" fill="#fff"/>
<rect x="136" y="543" width="7" height="1" fill="#fff"/>
<rect x="136" y="546" width="7" height="1" fill="#fff"/>
<rect x="136" y="548" width="7" height="1" fill="#fff"/>
<rect x="133" y="551" width="10" height="1" fill="#fff"/>
<rect x="708" y="429" width="10" height="1" fill="#fff"/>
<rect x="708" y="431" width="7" height="1" fill="#fff"/>
<rect x="708" y="433" width="7" height="1" fill="#fff"/>
<rect x="708" y="436" width="7" height="1" fill="#fff"/>
<rect x="708" y="438" width="7" height="1" fill="#fff"/>
<rect x="708" y="441" width="7" height="1" fill="#fff"/>
<rect x="708" y="443" width="7" height="1" fill="#fff"/>
<rect x="708" y="446" width="7" height="1" fill="#fff"/>
<rect x="708" y="448" width="7" height="1" fill="#fff"/>
<rect x="708" y="450" width="7" height="1" fill="#fff"/>
<rect x="708" y="453" width="10" height="1" fill="#fff"/>
<rect x="708" y="455" width="7" height="1" fill="#fff"/>
<rect x="708" y="458" width="7" height="1" fill="#fff"/>
<rect x="708" y="460" width="7" height="1" fill="#fff"/>
<rect x="708" y="463" width="7" height="1" fill="#fff"/>
<rect x="708" y="465" width="7" height="1" fill="#fff"/>
<rect x="708" y="468" width="7" height="1" fill="#fff"/>
<rect x="708" y="470" width="7" height="1" fill="#fff"/>
<rect x="708" y="472" width="7" height="1" fill="#fff"/>
<rect x="708" y="475" width="7" height="1" fill="#fff"/>
<rect x="708" y="477" width="10" height="1" fill="#fff"/>
<rect x="708" y="480" width="7" height="1" fill="#fff"/>
<rect x="708" y="482" width="7" height="1" fill="#fff"/>
<rect x="708" y="485" width="7" height="1" fill="#fff"/>
<rect x="708" y="487" width="7" height="1" fill="#fff"/>
<rect x="708" y="490" width="7" height="1" fill="#fff"/>
<rect x="708" y="492" width="7" height="1" fill="#fff"/>
<rect x="708" y="494" width="7" height="1" fill="#fff"/>
<rect x="708" y="497" width="7" height="1" fill="#fff"/>
<rect x="708" y="499" width="7" height="1" fill="#fff"/>
<rect x="708" y="502" width="10" height="1" fill="#fff"/>
<rect x="708" y="504" width="7" height="1" fill="#fff"/>
<rect x="708" y="507" width="7" height="1" fill="#fff"/>
<rect x="708" y="509" width="7" height="1" fill="#fff"/>
<rect x="708" y="511" width="7" height="1" fill="#fff"/>
<rect x="708" y="514" width="7" height="1" fill="#fff"/>
<rect x="708" y="516" width="7" height="1" fill="#fff"/>
<rect x="708" y="519" width="7" height="1" fill="#fff"/>
<rect x="708" y="521" width="7" height="1" fill="#fff"/>
<rect x="708" y="524" width="7" height="1" fill="#fff"/>
<rect x="708" y="526" width="10" height="1" fill="#fff"/>
<rect x="708" y="529" width="7" height="1" fill="#fff"/>
<rect x="708" y="531" width="7" height="1" fill="#fff"/>
<rect x="708" y="533" width="7" height="1" fill="#fff"/>
<rect x="708" y="536" width="7" height="1" fill="#fff"/>
<rect x="708" y="538" width="7" height="1" fill="#fff"/>
<rect x="708" y="541" width="7" height="1" fill="#fff"/>
<rect x="708" y="543" width="7" height="1" fill="#fff"/>
<rect x="708" y="546" width="7" height="1" fill="#fff"/>
<rect x="708" y="548" width="7" height="1" fill="#fff"/>
<rect x="708" y="551" width="10" height="1" fill="#fff"/>
<rect x="133" y="561" width="10" height="1" fill="#fff"/>
<rect x="136" y="563" width="7" height="1" fill="#fff"/>
<rect x="136" y="565" width="7" height="1" fill="#fff"/>
<rect x="136" y="568" width="7" height="1" fill="#fff"/>
<rect x="136" y="570" width="7" height="1" fill="#fff"/>
<rect x="136" y="573" width="7" height="1" fill="#fff"/>
<rect x="136" y="575" width="7" height="1" fill="#fff"/>
<rect x="136" y="578" width="7" height="1" fill="#fff"/>
<rect x="136" y="580" width="7" height="1" fill="#fff"/>
<rect x="136" y="583" width="7" height="1" fill="#fff"/>
<rect x="133" y="585" width="10" height="1" fill="#fff"/>
<rect x="136" y="588" width="7" height="1" fill="#fff"/>
<rect x="136" y="590" width="7" height="1" fill="#fff"/>
<rect x="136" y="592" width="7" height="1" fill="#fff"/>
<rect x="136" y="595" width="7" height="1" fill="#fff"/>
<rect x="136" y="597" width="7" height="1" fill="#fff"/>
<rect x="136" y="600" width="7" height="1" fill="#fff"/>
<rect x="136" y="602" width="7" height="1" fill="#fff"/>
<rect x="136" y="605" width="7" height="1" fill="#fff"/>
<rect x="136" y="607" width="7" height="1" fill="#fff"/>
<rect x="133" y="610" width="10" height="1" fill="#fff"/>
<rect x="136" y="612" width="7" height="1" fill="#fff"/>
<rect x="136" y="615" width="7" height="1" fill="#fff"/>
<rect x="136" y="617" width="7" height="1" fill="#fff"/>
<rect x="136" y="620" width="7" height="1" fill="#fff"/>
<rect x="136" y="622" width="7" height="1" fill="#fff"/>
<rect x="136" y="624" width="7" height="1" fill="#fff"/>
<rect x="136" y="627" width="7" height="1" fill="#fff"/>
<rect x="136" y="629" width="7" height="1" fill="#fff"/>
<rect x="136" y="632" width="7" height="1" fill="#fff"/>
<rect x="133" y="634" width="10" height="1" fill="#fff"/>
<rect x="136" y="637" width="7" height="1" fill="#fff"/>
<rect x="136" y="639" width="7" height="1" fill="#fff"/>
<rect x="136" y="642" width="7" height="1" fill="#fff"/>
<rect x="136" y="644" width="7" height="1" fill="#fff"/>
<rect x="136" y="647" width="7" height="1" fill="#fff"/>
<rect x="136" y="649" width="7" height="1" fill="#fff"/>
<rect x="136" y="652" width="7" height="1" fill="#fff"/>
<rect x="136" y="654" width="7" height="1" fill="#fff"/>
<rect x="136" y="656" width="7" height="1" fill="#fff"/>
<rect x="133" y="659" width="10" height="1" fill="#fff"/>
<rect x="136" y="661" width="7" height="1" fill="#fff"/>
<rect x="136" y="664" width="7" height="1" fill="#fff"/>
<rect x="136" y="666" width="7" height="1" fill="#fff"/>
<rect x="136" y="669" width="7" height="1" fill="#fff"/>
<rect x="136" y="671" width="7" height="1" fill="#fff"/>
<rect x="136" y="674" width="7" height="1" fill="#fff"/>
<rect x="136" y="676" width="7" height="1" fill="#fff"/>
<rect x="136" y="679" width="7" height="1" fill="#fff"/>
<rect x="136" y="681" width="7" height="1" fill="#fff"/>
<rect x="133" y="684" width="10" height="1" fill="#fff"/>
<rect x="708" y="561" width="10" height="1" fill="#fff"/>
<rect x="708" y="563" width="7" height="1" fill="#fff"/>
<rect x="708" y="565" width="7" height="1" fill="#fff"/>
<rect x="708" y="568" width="7" height="1" fill="#fff"/>
<rect x="708" y="570" width="7" height="1" fill="#fff"/>
<rect x="708" y="573" width="7" height="1" fill="#fff"/>
<rect x="708" y="575" width="7" height="1" fill="#fff"/>
<rect x="708" y="578" width="7" height="1" fill="#fff"/>
<rect x="708" y="580" width="7" height="1" fill="#fff"/>
<rect x="708" y="583" width="7" height="1" fill="#fff"/>
<rect x="708" y="585" width="10" height="1" fill="#fff"/>
<rect x="708" y="588" width="7" height="1" fill="#fff"/>
<rect x="708" y="590" width="7" height="1" fill="#fff"/>
<rect x="708" y="592" width="7" height="1" fill="#fff"/>
<rect x="708" y="595" width="7" height="1" fill="#fff"/>
<rect x="708" y="597" width="7" height="1" fill="#fff"/>
<rect x="708" y="600" width="7" height="1" fill="#fff"/>
<rect x="708" y="602" width="7" height="1" fill="#fff"/>
<rect x="708" y="605" width="7" height="1" fill="#fff"/>
<rect x="708" y="607" width="7" height="1" fill="#fff"/>
<rect x="708" y="610" width="10" height="1" fill="#fff"/>
<rect x="708" y="612" width="7" height="1" fill="#fff"/>
<rect x="708" y="615" width="7" height="1" fill="#fff"/>
<rect x="708" y="617" width="7" height="1" fill="#fff"/>
<rect x="708" y="620" width="7" height="1" fill="#fff"/>
<rect x="708" y="622" width="7" height="1" fill="#fff"/>
<rect x="708" y="624" width="7" height="1" fill="#fff"/>
<rect x="708" y="627" width="7" height="1" fill="#fff"/>
<rect x="708" y="629" width="7" height="1" fill="#fff"/>
<rect x="708" y="632" width="7" height="1" fill="#fff"/>
<rect x="708" y="634" width="10" height="1" fill="#fff"/>
<rect x="708" y="637" width="7" height="1" fill="#fff"/>
<rect x="708" y="639" width="7" height="1" fill="#fff"/>
<rect x="708" y="642" width="7" height="1" fill="#fff"/>
<rect x="708" y="644" width="7" height="1" fill="#fff"/>
<rect x="708" y="647" width="7" height="1" fill="#fff"/>
<rect x="708" y="649" width="7" height="1" fill="#fff"/>
<rect x="708" y="652" width="7" height="1" fill="#fff"/>
<rect x="708" y="654" width="7" height="1" fill="#fff"/>
<rect x="708" y="656" width="7" height="1" fill="#fff"/>
<rect x="708" y="659" width="10" height="1" fill="#fff"/>
<rect x="708" y="661" width="7" height="1" fill="#fff"/>
<rect x="708" y="664" width="7" height="1" fill="#fff"/>
<rect x="708" y="666" width="7" height="1" fill="#fff"/>
<rect x="708" y="669" width="7" height="1" fill="#fff"/>
<rect x="708" y="671" width="7" height="1" fill="#fff"/>
<rect x="708" y="674" width="7" height="1" fill="#fff"/>
<rect x="708" y="676" width="7" height="1" fill="#fff"/>
<rect x="708" y="679" width="7" height="1" fill="#fff"/>
<rect x="708" y="681" width="7" height="1" fill="#fff"/>
<rect x="708" y="684" width="10" height="1" fill="#fff"/>
<rect x="132" y="180" width="10" height="1" fill="#fff"/>
<rect x="132" y="233" width="10" height="1" fill="#fff"/>
<rect x="135" y="217" width="7" height="1" fill="#fff"/>
<rect x="135" y="207" width="7" height="1" fill="#fff"/>
<rect x="135" y="201" width="7" height="1" fill="#fff"/>
<rect x="135" y="196" width="7" height="1" fill="#fff"/>
<rect x="135" y="191" width="7" height="1" fill="#fff"/>
<rect x="135" y="188" width="7" height="1" fill="#fff"/>
<rect x="135" y="185" width="7" height="1" fill="#fff"/>
<rect x="135" y="182" width="7" height="1" fill="#fff"/>
<rect x="132" y="287" width="10" height="1" fill="#fff"/>
<rect x="135" y="270" width="7" height="1" fill="#fff"/>
<rect x="135" y="261" width="7" height="1" fill="#fff"/>
<rect x="135" y="254" width="7" height="1" fill="#fff"/>
<rect x="135" y="249" width="7" height="1" fill="#fff"/>
<rect x="135" y="245" width="7" height="1" fill="#fff"/>
<rect x="135" y="241" width="7" height="1" fill="#fff"/>
<rect x="135" y="238" width="7" height="1" fill="#fff"/>
<rect x="135" y="235" width="7" height="1" fill="#fff"/>
<rect x="135" y="164" width="7" height="1" fill="#fff"/>
<rect x="141" y="275" width="567" height="1" fill="#fff"/>
<rect x="142" y="544" width="567" height="1" fill="#fff"/>
<rect x="313" y="387" width="395" height="1" fill="#ff0000"/>
<rect x="313" y="508" width="395" height="1" fill="#ff0000"/>
<rect x="143" y="634" width="565" height="1" fill="#00ff00"/>
<path d="M141.5,35.5 L148.5,35.5 L149.5,36.5 L342.5,36.5 L345.5,33.5 L346.5,33.5 L348.5,35.5 L351.5,40.5 L353.5,48.5 L357.5,64.5 L360.5,79.5 L363.5,95.5 L367.5,111.5 L370.5,119.5 L372.5,121.5 L481.5,121.5 L484.5,122.5 L492.5,131.5 L497.5,133 L513.5,136.5 L531.5,136.5 L546.5,129 L554.5,125.5 L561.5,124.8 L568.5,124.5 L589.5,117.5 L593.5,114 L598.5,109 L605.5,97.5 L612.5,85 L616.5,77.5 L623,64 L627.5,54.5 L633.5,46.5 L640.5,39 L644.5,36.5 L706.5,36.5" fill="none" stroke="#fff" stroke-width="1"/>
<rect x="863" y="26" width="21" height="107" fill="#fff"/>
<rect x="864" y="27" width="19" height="105" fill="url(#g1)"/>
<rect x="863" y="171" width="21" height="107" fill="#fff"/>
<rect x="864" y="172" width="19" height="105" fill="url(#g2)"/>
<rect x="876" y="132" width="8" height="1" fill="#fff"/>
<rect x="879" y="126" width="5" height="1" fill="#fff"/>
<rect x="879" y="123" width="5" height="1" fill="#fff"/>
<rect x="879" y="121" width="5" height="1" fill="#fff"/>
<rect x="879" y="119" width="5" height="1" fill="#fff"/>
<rect x="879" y="118" width="5" height="1" fill="#fff"/>
<rect x="879" y="117" width="5" height="1" fill="#fff"/>
<rect x="879" y="116" width="5" height="1" fill="#fff"/>
<rect x="879" y="115" width="5" height="1" fill="#fff"/>
<rect x="876" y="114" width="8" height="1" fill="#fff"/>
<rect x="879" y="109" width="5" height="1" fill="#fff"/>
<rect x="879" y="105" width="5" height="1" fill="#fff"/>
<rect x="879" y="103" width="5" height="1" fill="#fff"/>
<rect x="879" y="102" width="5" height="1" fill="#fff"/>
<rect x="879" y="100" width="5" height="1" fill="#fff"/>
<rect x="879" y="99" width="5" height="1" fill="#fff"/>
<rect x="879" y="98" width="5" height="1" fill="#fff"/>
<rect x="879" y="97" width="5" height="1" fill="#fff"/>
<rect x="876" y="96" width="8" height="1" fill="#fff"/>
<rect x="879" y="91" width="5" height="1" fill="#fff"/>
<rect x="879" y="88" width="5" height="1" fill="#fff"/>
<rect x="879" y="86" width="5" height="1" fill="#fff"/>
<rect x="879" y="84" width="5" height="1" fill="#fff"/>
<rect x="879" y="82" width="5" height="1" fill="#fff"/>
<rect x="879" y="81" width="5" height="1" fill="#fff"/>
<rect x="879" y="80" width="5" height="1" fill="#fff"/>
<rect x="879" y="79" width="5" height="1" fill="#fff"/>
<rect x="876" y="79" width="8" height="1" fill="#fff"/>
<rect x="879" y="73" width="5" height="1" fill="#fff"/>
<rect x="879" y="70" width="5" height="1" fill="#fff"/>
<rect x="879" y="68" width="5" height="1" fill="#fff"/>
<rect x="879" y="66" width="5" height="1" fill="#fff"/>
<rect x="879" y="65" width="5" height="1" fill="#fff"/>
<rect x="879" y="64" width="5" height="1" fill="#fff"/>
<rect x="879" y="63" width="5" height="1" fill="#fff"/>
<rect x="879" y="62" width="5" height="1" fill="#fff"/>
<rect x="876" y="61" width="8" height="1" fill="#fff"/>
<rect x="879" y="56" width="5" height="1" fill="#fff"/>
<rect x="879" y="52" width="5" height="1" fill="#fff"/>
<rect x="879" y="50" width="5" height="1" fill="#fff"/>
<rect x="879" y="49" width="5" height="1" fill="#fff"/>
<rect x="879" y="47" width="5" height="1" fill="#fff"/>
<rect x="879" y="46" width="5" height="1" fill="#fff"/>
<rect x="879" y="45" width="5" height="1" fill="#fff"/>
<rect x="879" y="44" width="5" height="1" fill="#fff"/>
<rect x="876" y="43" width="8" height="1" fill="#fff"/>
<rect x="879" y="38" width="5" height="1" fill="#fff"/>
<rect x="879" y="35" width="5" height="1" fill="#fff"/>
<rect x="879" y="33" width="5" height="1" fill="#fff"/>
<rect x="879" y="31" width="5" height="1" fill="#fff"/>
<rect x="879" y="29" width="5" height="1" fill="#fff"/>
<rect x="879" y="28" width="5" height="1" fill="#fff"/>
<rect x="879" y="27" width="5" height="1" fill="#fff"/>
<rect x="879" y="26" width="5" height="1" fill="#fff"/>
<rect x="876" y="26" width="8" height="1" fill="#fff"/>
<rect x="876" y="277" width="8" height="1" fill="#fff"/>
<rect x="879" y="261" width="5" height="1" fill="#fff"/>
<rect x="879" y="251" width="5" height="1" fill="#fff"/>
<rect x="879" y="245" width="5" height="1" fill="#fff"/>
<rect x="879" y="240" width="5" height="1" fill="#fff"/>
<rect x="879" y="235" width="5" height="1" fill="#fff"/>
<rect x="879" y="232" width="5" height="1" fill="#fff"/>
<rect x="879" y="229" width="5" height="1" fill="#fff"/>
<rect x="879" y="226" width="5" height="1" fill="#fff"/>
<rect x="876" y="224" width="8" height="1" fill="#fff"/>
<rect x="879" y="208" width="5" height="1" fill="#fff"/>
<rect x="879" y="198" width="5" height="1" fill="#fff"/>
<rect x="879" y="192" width="5" height="1" fill="#fff"/>
<rect x="879" y="187" width="5" height="1" fill="#fff"/>
<rect x="879" y="182" width="5" height="1" fill="#fff"/>
<rect x="879" y="179" width="5" height="1" fill="#fff"/>
<rect x="879" y="176" width="5" height="1" fill="#fff"/>
<rect x="879" y="173" width="5" height="1" fill="#fff"/>
<rect x="876" y="171" width="8" height="1" fill="#fff"/>
<rect x="896.5" y="167" width="3.2" height="1" fill="#fff"/>
<rect x="896.5" y="220" width="3.2" height="1" fill="#fff"/>
<rect x="896.5" y="273" width="3.2" height="1" fill="#fff"/>
</g>
<g opacity="0.999">
<text x="142" y="14" font-size="16" fill="#fff" textLength="123" lengthAdjust="spacingAndGlyphs" stroke="#fff" stroke-width="0.14">NPI Vector Data</text>
<text x="142" y="159" font-size="16" fill="#fff" textLength="117.5" lengthAdjust="spacingAndGlyphs" stroke="#fff" stroke-width="0.14">MEx ELS-01 LR</text>
<text x="638" y="159" font-size="16" fill="#fff" textLength="70" lengthAdjust="spacingAndGlyphs" stroke="#fff" stroke-width="0.14">NO DATA</text>
<text x="80" y="23" font-size="12.5" fill="#fff" textLength="48" lengthAdjust="spacingAndGlyphs" stroke="#fff" stroke-width="0.22">3.1e+01</text>
<text x="78" y="47.6" font-size="12.5" fill="#fff" textLength="50" lengthAdjust="spacingAndGlyphs" stroke="#fff" stroke-width="0.22">2.5e+01</text>
<text x="80" y="72.2" font-size="12.5" fill="#fff" textLength="48" lengthAdjust="spacingAndGlyphs" stroke="#fff" stroke-width="0.22">1.9e+01</text>
<text x="80" y="96.8" font-size="12.5" fill="#fff" textLength="48" lengthAdjust="spacingAndGlyphs" stroke="#fff" stroke-width="0.22">1.2e+01</text>
<text x="74" y="121.4" font-size="12.5" fill="#fff" textLength="54" lengthAdjust="spacingAndGlyphs" stroke="#fff" stroke-width="0.22">6.2e+00</text>
<text x="721.5" y="23" font-size="12.5" fill="#fff" textLength="15.5" lengthAdjust="spacingAndGlyphs" stroke="#fff" stroke-width="0.22">90</text>
<text x="721.5" y="47.6" font-size="12.5" fill="#fff" textLength="15.5" lengthAdjust="spacingAndGlyphs" stroke="#fff" stroke-width="0.22">75</text>
<text x="721.5" y="72.2" font-size="12.5" fill="#fff" textLength="15.5" lengthAdjust="spacingAndGlyphs" stroke="#fff" stroke-width="0.22">60</text>
<text x="721.5" y="96.8" font-size="12.5" fill="#fff" textLength="15.5" lengthAdjust="spacingAndGlyphs" stroke="#fff" stroke-width="0.22">45</text>
<text x="721.5" y="121.4" font-size="12.5" fill="#fff" textLength="15.5" lengthAdjust="spacingAndGlyphs" stroke="#fff" stroke-width="0.22">30</text>
<text x="111" y="184" font-size="12.5" fill="#fff" textLength="12" lengthAdjust="spacingAndGlyphs" stroke="#fff" stroke-width="0.22">10</text>
<text x="123.7" y="177.5" font-size="8.5" fill="#fff" stroke="#fff" stroke-width="0.3">2</text>
<text x="111" y="237.5" font-size="12.5" fill="#fff" textLength="12" lengthAdjust="spacingAndGlyphs" stroke="#fff" stroke-width="0.22">10</text>
<text x="123.7" y="231" font-size="8.5" fill="#fff" stroke="#fff" stroke-width="0.3">1</text>
<text x="721.5" y="168" font-size="12.5" fill="#fff" textLength="19.5" lengthAdjust="spacingAndGlyphs" stroke="#fff" stroke-width="0.22">190</text>
<text x="721.5" y="192.6" font-size="12.5" fill="#fff" textLength="19.5" lengthAdjust="spacingAndGlyphs" stroke="#fff" stroke-width="0.22">150</text>
<text x="721.5" y="217.2" font-size="12.5" fill="#fff" textLength="16.5" lengthAdjust="spacingAndGlyphs" stroke="#fff" stroke-width="0.22">110</text>
<text x="721.5" y="241.8" font-size="12.5" fill="#fff" textLength="14.5" lengthAdjust="spacingAndGlyphs" stroke="#fff" stroke-width="0.22">70</text>
<text x="721.5" y="266.4" font-size="12.5" fill="#fff" textLength="14.5" lengthAdjust="spacingAndGlyphs" stroke="#fff" stroke-width="0.22">30</text>
<text x="112" y="300" font-size="12.5" fill="#fff" textLength="17" lengthAdjust="spacingAndGlyphs" stroke="#fff" stroke-width="0.22">1.5</text>
<text x="115" y="324.4" font-size="12.5" fill="#fff" textLength="14" lengthAdjust="spacingAndGlyphs" stroke="#fff" stroke-width="0.22">1.1</text>
<text x="109" y="348.8" font-size="12.5" fill="#fff" textLength="20" lengthAdjust="spacingAndGlyphs" stroke="#fff" stroke-width="0.22">0.7</text>
<text x="109" y="373.2" font-size="12.5" fill="#fff" textLength="20" lengthAdjust="spacingAndGlyphs" stroke="#fff" stroke-width="0.22">0.3</text>
<text x="103" y="397.6" font-size="12.5" fill="#fff" textLength="26" lengthAdjust="spacingAndGlyphs" stroke="#fff" stroke-width="0.22">−0.1</text>
<text x="721.5" y="300" font-size="12.5" fill="#fff" textLength="16.5" lengthAdjust="spacingAndGlyphs" stroke="#fff" stroke-width="0.22">1.5</text>
<text x="721.5" y="324.4" font-size="12.5" fill="#fff" textLength="13.5" lengthAdjust="spacingAndGlyphs" stroke="#fff" stroke-width="0.22">1.1</text>
<text x="721.5" y="348.8" font-size="12.5" fill="#fff" textLength="20.5" lengthAdjust="spacingAndGlyphs" stroke="#fff" stroke-width="0.22">0.7</text>
<text x="721.5" y="373.2" font-size="12.5" fill="#fff" textLength="20.5" lengthAdjust="spacingAndGlyphs" stroke="#fff" stroke-width="0.22">0.3</text>
<text x="721.5" y="397.6" font-size="12.5" fill="#fff" textLength="26.5" lengthAdjust="spacingAndGlyphs" stroke="#fff" stroke-width="0.22">−0.1</text>
<text x="89" y="433" font-size="12.5" fill="#fff" textLength="40" lengthAdjust="spacingAndGlyphs" stroke="#fff" stroke-width="0.22">23500</text>
<text x="91" y="457.4" font-size="12.5" fill="#fff" textLength="38" lengthAdjust="spacingAndGlyphs" stroke="#fff" stroke-width="0.22">18800</text>
<text x="94" y="481.8" font-size="12.5" fill="#fff" textLength="35" lengthAdjust="spacingAndGlyphs" stroke="#fff" stroke-width="0.22">14100</text>
<text x="97" y="506.2" font-size="12.5" fill="#fff" textLength="32" lengthAdjust="spacingAndGlyphs" stroke="#fff" stroke-width="0.22">9400</text>
<text x="97" y="530.6" font-size="12.5" fill="#fff" textLength="32" lengthAdjust="spacingAndGlyphs" stroke="#fff" stroke-width="0.22">4700</text>
<text x="721.5" y="433" font-size="12.5" fill="#fff" textLength="23.5" lengthAdjust="spacingAndGlyphs" stroke="#fff" stroke-width="0.22">260</text>
<text x="721.5" y="457.4" font-size="12.5" fill="#fff" textLength="23.5" lengthAdjust="spacingAndGlyphs" stroke="#fff" stroke-width="0.22">206</text>
<text x="721.5" y="481.8" font-size="12.5" fill="#fff" textLength="20.5" lengthAdjust="spacingAndGlyphs" stroke="#fff" stroke-width="0.22">152</text>
<text x="721.5" y="506.2" font-size="12.5" fill="#fff" textLength="15.5" lengthAdjust="spacingAndGlyphs" stroke="#fff" stroke-width="0.22">98</text>
<text x="721.5" y="530.6" font-size="12.5" fill="#fff" textLength="15.5" lengthAdjust="spacingAndGlyphs" stroke="#fff" stroke-width="0.22">44</text>
<text x="104" y="565" font-size="12.5" fill="#fff" textLength="25" lengthAdjust="spacingAndGlyphs" stroke="#fff" stroke-width="0.22">0.15</text>
<text x="104" y="589.6" font-size="12.5" fill="#fff" textLength="25" lengthAdjust="spacingAndGlyphs" stroke="#fff" stroke-width="0.22">0.10</text>
<text x="101" y="614.2" font-size="12.5" fill="#fff" textLength="28" lengthAdjust="spacingAndGlyphs" stroke="#fff" stroke-width="0.22">0.05</text>
<text x="101" y="638.8" font-size="12.5" fill="#fff" textLength="28" lengthAdjust="spacingAndGlyphs" stroke="#fff" stroke-width="0.22">0.00</text>
<text x="92" y="663.4" font-size="12.5" fill="#fff" textLength="37" lengthAdjust="spacingAndGlyphs" stroke="#fff" stroke-width="0.22">−0.05</text>
<text x="95" y="688" font-size="12.5" fill="#fff" textLength="34" lengthAdjust="spacingAndGlyphs" stroke="#fff" stroke-width="0.22">−0.10</text>
<text x="721.5" y="565" font-size="12.5" fill="#fff" textLength="24.5" lengthAdjust="spacingAndGlyphs" stroke="#fff" stroke-width="0.22">0.15</text>
<text x="721.5" y="589.6" font-size="12.5" fill="#fff" textLength="24.5" lengthAdjust="spacingAndGlyphs" stroke="#fff" stroke-width="0.22">0.10</text>
<text x="721.5" y="614.2" font-size="12.5" fill="#fff" textLength="28.5" lengthAdjust="spacingAndGlyphs" stroke="#fff" stroke-width="0.22">0.05</text>
<text x="721.5" y="638.8" font-size="12.5" fill="#fff" textLength="28.5" lengthAdjust="spacingAndGlyphs" stroke="#fff" stroke-width="0.22">0.00</text>
<text x="721.5" y="663.4" font-size="12.5" fill="#fff" textLength="38.5" lengthAdjust="spacingAndGlyphs" stroke="#fff" stroke-width="0.22">−0.05</text>
<text x="721.5" y="688" font-size="12.5" fill="#fff" textLength="35.5" lengthAdjust="spacingAndGlyphs" stroke="#fff" stroke-width="0.22">−0.10</text>
<text x="28.5" y="702" font-size="16.5" fill="#fff" textLength="78" lengthAdjust="spacingAndGlyphs" stroke="#fff" stroke-width="0.14">2009/036</text>
<text x="120.77" y="702" font-size="16.5" fill="#fff" textLength="42.5" lengthAdjust="spacingAndGlyphs" stroke="#fff" stroke-width="0.14">00:00</text>
<text x="215.53" y="702" font-size="16.5" fill="#fff" textLength="42.5" lengthAdjust="spacingAndGlyphs" stroke="#fff" stroke-width="0.14">00:40</text>
<text x="312.04" y="702" font-size="16.5" fill="#fff" textLength="39" lengthAdjust="spacingAndGlyphs" stroke="#fff" stroke-width="0.14">01:20</text>
<text x="405.05" y="702" font-size="16.5" fill="#fff" textLength="42.5" lengthAdjust="spacingAndGlyphs" stroke="#fff" stroke-width="0.14">02:00</text>
<text x="499.81" y="702" font-size="16.5" fill="#fff" textLength="42.5" lengthAdjust="spacingAndGlyphs" stroke="#fff" stroke-width="0.14">02:40</text>
<text x="594.57" y="702" font-size="16.5" fill="#fff" textLength="42.5" lengthAdjust="spacingAndGlyphs" stroke="#fff" stroke-width="0.14">03:20</text>
<text x="689.33" y="702" font-size="16.5" fill="#fff" textLength="42.5" lengthAdjust="spacingAndGlyphs" stroke="#fff" stroke-width="0.14">04:00</text>
<text x="40" y="105" font-size="16" fill="#fff" textLength="50" lengthAdjust="spacingAndGlyphs" transform="rotate(-90 40 105)" stroke="#fff" stroke-width="0.14">Sector</text>
<text x="55" y="111" font-size="16" fill="#fff" textLength="61.5" lengthAdjust="spacingAndGlyphs" transform="rotate(-90 55 111)" stroke="#fff" stroke-width="0.14">Unitless</text>
<text x="71" y="275.8" font-size="14" fill="#fff" textLength="101.5" lengthAdjust="spacingAndGlyphs" transform="rotate(-90 71 275.8)" stroke="#fff" stroke-width="0.14">Electron Energy</text>
<text x="83" y="232.4" font-size="12" fill="#fff" textLength="15.4" lengthAdjust="spacingAndGlyphs" transform="rotate(-90 83 232.4)" stroke="#fff" stroke-width="0.22">eV</text>
<text x="48" y="395.7" font-size="12.5" fill="#fff" textLength="78.1" lengthAdjust="spacingAndGlyphs" transform="rotate(-90 48 395.7)" stroke="#fff" stroke-width="0.22">Sensor Data</text>
<text x="61" y="415.7" font-size="12.5" fill="#fff" textLength="118.1" lengthAdjust="spacingAndGlyphs" transform="rotate(-90 61 415.7)" stroke="#fff" stroke-width="0.22">MU Scanner +30V</text>
<text x="73.5" y="387" font-size="12.5" fill="#fff" textLength="60" lengthAdjust="spacingAndGlyphs" transform="rotate(-90 73.5 387)" stroke="#fff" stroke-width="0.22">Raw Data</text>
<text x="86" y="369" font-size="12.5" fill="#fff" textLength="24" lengthAdjust="spacingAndGlyphs" transform="rotate(-90 86 369)" stroke="#fff" stroke-width="0.22">Raw</text>
<text x="42.3" y="524" font-size="11" fill="#fff" textLength="68.5" lengthAdjust="spacingAndGlyphs" transform="rotate(-90 42.3 524)" stroke="#fff" stroke-width="0.3">Sensor Data</text>
<text x="53.5" y="544" font-size="11" fill="#fff" textLength="108.5" lengthAdjust="spacingAndGlyphs" transform="rotate(-90 53.5 544)" stroke="#fff" stroke-width="0.3">Model Scanner Pos</text>
<text x="65" y="501.2" font-size="11" fill="#fff" textLength="22.9" lengthAdjust="spacingAndGlyphs" transform="rotate(-90 65 501.2)" stroke="#fff" stroke-width="0.3">Raw</text>
<text x="76" y="511" font-size="11" fill="#fff" textLength="42.6" lengthAdjust="spacingAndGlyphs" transform="rotate(-90 76 511)" stroke="#fff" stroke-width="0.3">unitless</text>
<text x="35.7" y="664.8" font-size="14" fill="#fff" textLength="84.2" lengthAdjust="spacingAndGlyphs" transform="rotate(-90 35.7 664.8)" stroke="#fff" stroke-width="0.14">Sensor Data</text>
<text x="49" y="675" font-size="14" fill="#fff" textLength="105.5" lengthAdjust="spacingAndGlyphs" transform="rotate(-90 49 675)" stroke="#fff" stroke-width="0.14">Model Constant</text>
<text x="61.5" y="647.6" font-size="14" fill="#fff" textLength="50.6" lengthAdjust="spacingAndGlyphs" transform="rotate(-90 61.5 647.6)" stroke="#fff" stroke-width="0.14">velocity</text>
<text x="75.5" y="657" font-size="14" fill="#fff" textLength="69.4" lengthAdjust="spacingAndGlyphs" transform="rotate(-90 75.5 657)" stroke="#fff" stroke-width="0.14">index/sec</text>
<text x="782.6" y="45.9" font-size="12.5" fill="#fff" textLength="69.1" lengthAdjust="spacingAndGlyphs" transform="rotate(90 782.6 45.9)" stroke="#fff" stroke-width="0.22">Sensor Data</text>
<text x="771.8" y="28" font-size="12.5" fill="#fff" textLength="104.7" lengthAdjust="spacingAndGlyphs" transform="rotate(90 771.8 28)" stroke="#fff" stroke-width="0.22">ESH Sun Elevation</text>
<text x="761" y="64.9" font-size="12.5" fill="#fff" textLength="31.1" lengthAdjust="spacingAndGlyphs" transform="rotate(90 761 64.9)" stroke="#fff" stroke-width="0.22">Angle</text>
<text x="750" y="62.2" font-size="12.5" fill="#fff" textLength="37" lengthAdjust="spacingAndGlyphs" transform="rotate(90 750 62.2)" stroke="#fff" stroke-width="0.22">degree</text>
<text x="801.8" y="180" font-size="15" fill="#fff" textLength="90.9" lengthAdjust="spacingAndGlyphs" transform="rotate(90 801.8 180)" stroke="#fff" stroke-width="0.14">Sensor Data</text>
<text x="786.5" y="171.8" font-size="15" fill="#fff" textLength="109.7" lengthAdjust="spacingAndGlyphs" transform="rotate(90 786.5 171.8)" stroke="#fff" stroke-width="0.14">Model Scanner</text>
<text x="773" y="205.3" font-size="15" fill="#fff" textLength="39.5" lengthAdjust="spacingAndGlyphs" transform="rotate(90 773 205.3)" stroke="#fff" stroke-width="0.14">Angle</text>
<text x="758.5" y="197" font-size="15" fill="#fff" textLength="57.3" lengthAdjust="spacingAndGlyphs" transform="rotate(90 758.5 197)" stroke="#fff" stroke-width="0.14">degrees</text>
<text x="802" y="318.2" font-size="13" fill="#ff0000" textLength="77.5" lengthAdjust="spacingAndGlyphs" transform="rotate(90 802 318.2)" stroke="#ff0000" stroke-width="0.22">Sensor Data</text>
<text x="790" y="306.2" font-size="13" fill="#ff0000" textLength="102.3" lengthAdjust="spacingAndGlyphs" transform="rotate(90 790 306.2)" stroke="#ff0000" stroke-width="0.22">MU Scanner Init</text>
<text x="777" y="327.1" font-size="13" fill="#ff0000" textLength="60" lengthAdjust="spacingAndGlyphs" transform="rotate(90 777 327.1)" stroke="#ff0000" stroke-width="0.22">Raw Data</text>
<text x="765" y="345.2" font-size="13" fill="#ff0000" textLength="23.8" lengthAdjust="spacingAndGlyphs" transform="rotate(90 765 345.2)" stroke="#ff0000" stroke-width="0.22">Raw</text>
<text x="801.8" y="448.7" font-size="14" fill="#ff0000" textLength="83.4" lengthAdjust="spacingAndGlyphs" transform="rotate(90 801.8 448.7)" stroke="#ff0000" stroke-width="0.14">Sensor Data</text>
<text x="788.8" y="433.8" font-size="14" fill="#ff0000" textLength="113" lengthAdjust="spacingAndGlyphs" transform="rotate(90 788.8 433.8)" stroke="#ff0000" stroke-width="0.14">MU Scanner Pos</text>
<text x="775.5" y="457.8" font-size="14" fill="#ff0000" textLength="64.8" lengthAdjust="spacingAndGlyphs" transform="rotate(90 775.5 457.8)" stroke="#ff0000" stroke-width="0.14">Telemetry</text>
<text x="762" y="464.9" font-size="14" fill="#ff0000" textLength="51.4" lengthAdjust="spacingAndGlyphs" transform="rotate(90 762 464.9)" stroke="#ff0000" stroke-width="0.14">Unitless</text>
<text x="815.2" y="580.1" font-size="14" fill="#00ff00" textLength="83.9" lengthAdjust="spacingAndGlyphs" transform="rotate(90 815.2 580.1)" stroke="#00ff00" stroke-width="0.14">Sensor Data</text>
<text x="802" y="569.9" font-size="14" fill="#00ff00" textLength="105.5" lengthAdjust="spacingAndGlyphs" transform="rotate(90 802 569.9)" stroke="#00ff00" stroke-width="0.14">Model Constant</text>
<text x="788.2" y="581.3" font-size="14" fill="#00ff00" textLength="82.7" lengthAdjust="spacingAndGlyphs" transform="rotate(90 788.2 581.3)" stroke="#00ff00" stroke-width="0.14">acceleration</text>
<text x="775" y="577.5" font-size="14" fill="#00ff00" textLength="90.8" lengthAdjust="spacingAndGlyphs" transform="rotate(90 775 577.5)" stroke="#00ff00" stroke-width="0.14">index/sec**2</text>
<text x="868" y="23" font-size="10" fill="#fff" textLength="12" lengthAdjust="spacingAndGlyphs" stroke="#fff" stroke-width="0.3">NF</text>
<text x="865.8" y="168" font-size="10" fill="#fff" textLength="17.2" lengthAdjust="spacingAndGlyphs" stroke="#fff" stroke-width="0.3">DEF</text>
<text x="888.8" y="29" font-size="9" fill="#fff" textLength="7.2" lengthAdjust="spacingAndGlyphs" stroke="#fff" stroke-width="0.3">10</text>
<text x="896.5" y="25" font-size="6" fill="#fff" textLength="5" lengthAdjust="spacingAndGlyphs" font-weight="bold" stroke="#fff" stroke-width="0.3">12</text>
<text x="888.8" y="46.6667" font-size="9" fill="#fff" textLength="7.2" lengthAdjust="spacingAndGlyphs" stroke="#fff" stroke-width="0.3">10</text>
<text x="896.5" y="42.6667" font-size="6" fill="#fff" textLength="5" lengthAdjust="spacingAndGlyphs" font-weight="bold" stroke="#fff" stroke-width="0.3">11</text>
<text x="888.8" y="64.3333" font-size="9" fill="#fff" textLength="7.2" lengthAdjust="spacingAndGlyphs" stroke="#fff" stroke-width="0.3">10</text>
<text x="896.5" y="60.3333" font-size="6" fill="#fff" textLength="5" lengthAdjust="spacingAndGlyphs" font-weight="bold" stroke="#fff" stroke-width="0.3">10</text>
<text x="888.8" y="82" font-size="9" fill="#fff" textLength="7.2" lengthAdjust="spacingAndGlyphs" stroke="#fff" stroke-width="0.3">10</text>
<text x="896.5" y="78" font-size="6" fill="#fff" textLength="2.5" lengthAdjust="spacingAndGlyphs" font-weight="bold" stroke="#fff" stroke-width="0.3">9</text>
<text x="888.8" y="99.6667" font-size="9" fill="#fff" textLength="7.2" lengthAdjust="spacingAndGlyphs" stroke="#fff" stroke-width="0.3">10</text>
<text x="896.5" y="95.6667" font-size="6" fill="#fff" textLength="2.5" lengthAdjust="spacingAndGlyphs" font-weight="bold" stroke="#fff" stroke-width="0.3">8</text>
<text x="888.8" y="117.333" font-size="9" fill="#fff" textLength="7.2" lengthAdjust="spacingAndGlyphs" stroke="#fff" stroke-width="0.3">10</text>
<text x="896.5" y="113.333" font-size="6" fill="#fff" textLength="2.5" lengthAdjust="spacingAndGlyphs" font-weight="bold" stroke="#fff" stroke-width="0.3">7</text>
<text x="888.8" y="135" font-size="9" fill="#fff" textLength="7.2" lengthAdjust="spacingAndGlyphs" stroke="#fff" stroke-width="0.3">10</text>
<text x="896.5" y="131" font-size="6" fill="#fff" textLength="2.5" lengthAdjust="spacingAndGlyphs" font-weight="bold" stroke="#fff" stroke-width="0.3">6</text>
<text x="888.8" y="174" font-size="9" fill="#fff" textLength="7.2" lengthAdjust="spacingAndGlyphs" stroke="#fff" stroke-width="0.3">10</text>
<text x="900.2" y="170" font-size="6" fill="#fff" textLength="2.8" lengthAdjust="spacingAndGlyphs" font-weight="bold" stroke="#fff" stroke-width="0.3">4</text>
<text x="888.8" y="227" font-size="9" fill="#fff" textLength="7.2" lengthAdjust="spacingAndGlyphs" stroke="#fff" stroke-width="0.3">10</text>
<text x="900.2" y="223" font-size="6" fill="#fff" textLength="2.8" lengthAdjust="spacingAndGlyphs" font-weight="bold" stroke="#fff" stroke-width="0.3">5</text>
<text x="888.8" y="280" font-size="9" fill="#fff" textLength="7.2" lengthAdjust="spacingAndGlyphs" stroke="#fff" stroke-width="0.3">10</text>
<text x="900.2" y="276" font-size="6" fill="#fff" textLength="2.8" lengthAdjust="spacingAndGlyphs" font-weight="bold" stroke="#fff" stroke-width="0.3">6</text>
<text x="920" y="25.2" font-size="10" fill="#fff" textLength="107.7" lengthAdjust="spacingAndGlyphs" transform="rotate(90 920 25.2)" stroke="#fff" stroke-width="0.3">cnts/(cm**2-sr-sec)</text>
<text x="922.5" y="160.3" font-size="10" fill="#fff" textLength="127.1" lengthAdjust="spacingAndGlyphs" transform="rotate(90 922.5 160.3)" stroke="#fff" stroke-width="0.3">ergs/(cm**2-sr-sec-eV)</text>
</g>
</svg>
</body></html>
